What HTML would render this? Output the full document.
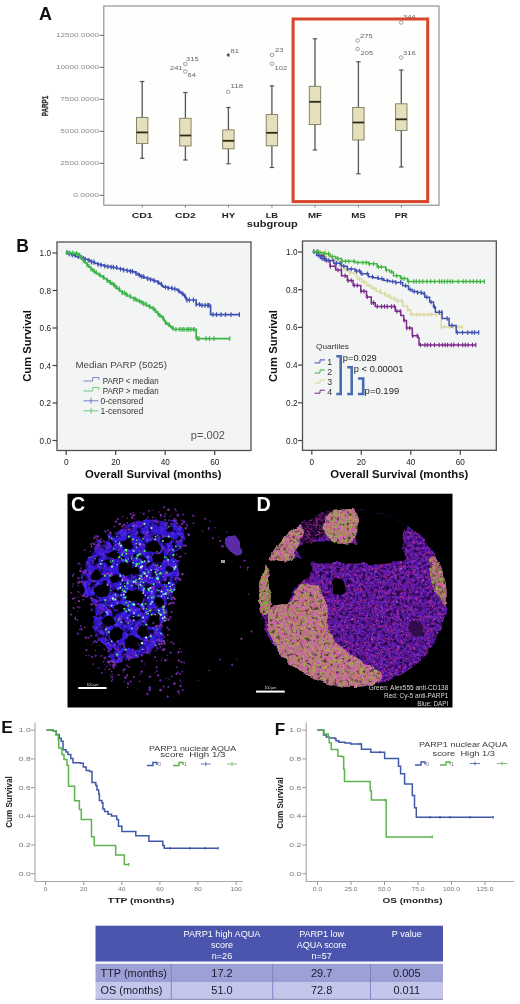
<!DOCTYPE html>
<html><head><meta charset="utf-8"><style>
html,body{margin:0;padding:0;background:#fff;width:520px;height:1004px;overflow:hidden}
svg{display:block;filter:blur(0.3px)}
</style></head><body>
<svg width="520" height="1004" viewBox="0 0 520 1004">
<defs><filter id="rough" x="-5%" y="-5%" width="110%" height="110%"><feTurbulence type="fractalNoise" baseFrequency="0.09" numOctaves="2" seed="2" result="n"/><feDisplacementMap in="SourceGraphic" in2="n" scale="7" xChannelSelector="R" yChannelSelector="G"/></filter>
<filter id="rough2" x="-5%" y="-5%" width="110%" height="110%"><feTurbulence type="fractalNoise" baseFrequency="0.12" numOctaves="2" seed="6" result="n"/><feDisplacementMap in="SourceGraphic" in2="n" scale="6" xChannelSelector="R" yChannelSelector="G"/></filter>
<filter id="nBlueL" x="0" y="0" width="100%" height="100%" color-interpolation-filters="sRGB"><feTurbulence type="fractalNoise" baseFrequency="0.3" numOctaves="2" seed="3"/><feColorMatrix type="matrix" values="0 0 0 0 0.314  0 0 0 0 0.235  0 0 0 0 0.980  4 0 0 0 -2.2"/></filter>
<filter id="nBlueP" x="0" y="0" width="100%" height="100%" color-interpolation-filters="sRGB"><feTurbulence type="fractalNoise" baseFrequency="0.25" numOctaves="2" seed="8"/><feColorMatrix type="matrix" values="0 0 0 0 0.549  0 0 0 0 0.157  0 0 0 0 0.784  4 0 0 0 -2.2"/></filter>
<filter id="nMag" x="0" y="0" width="100%" height="100%" color-interpolation-filters="sRGB"><feTurbulence type="fractalNoise" baseFrequency="0.38" numOctaves="2" seed="12"/><feColorMatrix type="matrix" values="0 0 0 0 0.686  0 0 0 0 0.157  0 0 0 0 0.549  4.5 0 0 0 -2.1"/></filter>
<filter id="nDark" x="0" y="0" width="100%" height="100%" color-interpolation-filters="sRGB"><feTurbulence type="fractalNoise" baseFrequency="0.32" numOctaves="2" seed="15"/><feColorMatrix type="matrix" values="0 0 0 0 0.098  0 0 0 0 0.016  0 0 0 0 0.216  4.5 0 0 0 -2.2"/></filter>
<filter id="nViol" x="0" y="0" width="100%" height="100%" color-interpolation-filters="sRGB"><feTurbulence type="fractalNoise" baseFrequency="0.38" numOctaves="2" seed="18"/><feColorMatrix type="matrix" values="0 0 0 0 0.471  0 0 0 0 0.176  0 0 0 0 0.882  4.5 0 0 0 -2.5"/></filter>
<filter id="nOlive" x="0" y="0" width="100%" height="100%" color-interpolation-filters="sRGB"><feTurbulence type="fractalNoise" baseFrequency="0.33" numOctaves="2" seed="21"/><feColorMatrix type="matrix" values="0 0 0 0 0.647  0 0 0 0 0.675  0 0 0 0 0.275  4.6 0 0 0 -1.9"/></filter>
<filter id="nPink" x="0" y="0" width="100%" height="100%" color-interpolation-filters="sRGB"><feTurbulence type="fractalNoise" baseFrequency="0.36" numOctaves="2" seed="27"/><feColorMatrix type="matrix" values="0 0 0 0 0.824  0 0 0 0 0.353  0 0 0 0 0.706  4.5 0 0 0 -2.0"/></filter>
<filter id="nOrange" x="0" y="0" width="100%" height="100%" color-interpolation-filters="sRGB"><feTurbulence type="fractalNoise" baseFrequency="0.4" numOctaves="2" seed="29"/><feColorMatrix type="matrix" values="0 0 0 0 0.804  0 0 0 0 0.373  0 0 0 0 0.275  4.5 0 0 0 -2.7"/></filter>
<filter id="nBlk" x="0" y="0" width="100%" height="100%" color-interpolation-filters="sRGB"><feTurbulence type="fractalNoise" baseFrequency="0.3" numOctaves="2" seed="33"/><feColorMatrix type="matrix" values="0 0 0 0 0.000  0 0 0 0 0.000  0 0 0 0 0.000  4.5 0 0 0 -2.5"/></filter>
<filter id="nBlkC" x="0" y="0" width="100%" height="100%" color-interpolation-filters="sRGB"><feTurbulence type="fractalNoise" baseFrequency="0.18" numOctaves="2" seed="35"/><feColorMatrix type="matrix" values="0 0 0 0 0.000  0 0 0 0 0.000  0 0 0 0 0.000  4.5 0 0 0 -2.2"/></filter>
<filter id="nWhite" x="0" y="0" width="100%" height="100%" color-interpolation-filters="sRGB"><feTurbulence type="fractalNoise" baseFrequency="0.45" numOctaves="2" seed="41"/><feColorMatrix type="matrix" values="0 0 0 0 0.922  0 0 0 0 0.882  0 0 0 0 0.706  5 0 0 0 -3.4"/></filter>
<filter id="nGreen" x="0" y="0" width="100%" height="100%" color-interpolation-filters="sRGB"><feTurbulence type="fractalNoise" baseFrequency="0.35" numOctaves="2" seed="44"/><feColorMatrix type="matrix" values="0 0 0 0 0.235  0 0 0 0 0.941  0 0 0 0 0.353  6 0 0 0 -3.6"/></filter></defs>
<rect width="520" height="1004" fill="#fff"/>
<text x="39" y="20" font-family="Liberation Sans, sans-serif" font-weight="bold" font-size="18" fill="#111">A</text>
<rect x="103.8" y="6" width="335.2" height="199.2" fill="#fefefc" stroke="#8a8a8a" stroke-width="1.1"/>
<line x1="99.5" y1="195.3" x2="103.8" y2="195.3" stroke="#666" stroke-width="1"/>
<text x="99" y="197.10000000000002" font-family="Liberation Sans, sans-serif" font-size="5" fill="#888" text-anchor="end" textLength="25.8" lengthAdjust="spacingAndGlyphs">0.0000</text>
<line x1="99.5" y1="163.3" x2="103.8" y2="163.3" stroke="#666" stroke-width="1"/>
<text x="99" y="165.10000000000002" font-family="Liberation Sans, sans-serif" font-size="5" fill="#888" text-anchor="end" textLength="38.7" lengthAdjust="spacingAndGlyphs">2500.0000</text>
<line x1="99.5" y1="131.3" x2="103.8" y2="131.3" stroke="#666" stroke-width="1"/>
<text x="99" y="133.10000000000002" font-family="Liberation Sans, sans-serif" font-size="5" fill="#888" text-anchor="end" textLength="38.7" lengthAdjust="spacingAndGlyphs">5000.0000</text>
<line x1="99.5" y1="99.30000000000001" x2="103.8" y2="99.30000000000001" stroke="#666" stroke-width="1"/>
<text x="99" y="101.10000000000001" font-family="Liberation Sans, sans-serif" font-size="5" fill="#888" text-anchor="end" textLength="38.7" lengthAdjust="spacingAndGlyphs">7500.0000</text>
<line x1="99.5" y1="67.30000000000001" x2="103.8" y2="67.30000000000001" stroke="#666" stroke-width="1"/>
<text x="99" y="69.10000000000001" font-family="Liberation Sans, sans-serif" font-size="5" fill="#888" text-anchor="end" textLength="43.0" lengthAdjust="spacingAndGlyphs">10000.0000</text>
<line x1="99.5" y1="35.30000000000001" x2="103.8" y2="35.30000000000001" stroke="#666" stroke-width="1"/>
<text x="99" y="37.10000000000001" font-family="Liberation Sans, sans-serif" font-size="5" fill="#888" text-anchor="end" textLength="43.0" lengthAdjust="spacingAndGlyphs">12500.0000</text>
<text transform="translate(48,106) rotate(-90)" font-family="Liberation Sans, sans-serif" font-weight="bold" font-size="9.4" fill="#333" stroke="#333" stroke-width="0.35" text-anchor="middle" textLength="20.5" lengthAdjust="spacingAndGlyphs">PARP1</text>
<line x1="142.2" y1="81.5" x2="142.2" y2="117.5" stroke="#555" stroke-width="1.3"/>
<line x1="142.2" y1="143.6" x2="142.2" y2="158.3" stroke="#555" stroke-width="1.3"/>
<line x1="140.0" y1="81.5" x2="144.39999999999998" y2="81.5" stroke="#555" stroke-width="1.2"/>
<line x1="140.0" y1="158.3" x2="144.39999999999998" y2="158.3" stroke="#555" stroke-width="1.2"/>
<rect x="136.5" y="117.5" width="11.4" height="26.099999999999994" fill="#e6dfbb" stroke="#7d7a62" stroke-width="0.9"/>
<line x1="136.5" y1="132.4" x2="147.89999999999998" y2="132.4" stroke="#2a2a1a" stroke-width="1.8"/>
<line x1="142.2" y1="205" x2="142.2" y2="207.5" stroke="#777" stroke-width="1"/>
<text x="142.2" y="218.3" font-family="Liberation Sans, sans-serif" font-weight="bold" font-size="8" fill="#222" text-anchor="middle" textLength="21" lengthAdjust="spacingAndGlyphs">CD1</text>
<line x1="185.4" y1="92.5" x2="185.4" y2="118.3" stroke="#555" stroke-width="1.3"/>
<line x1="185.4" y1="146.0" x2="185.4" y2="160.0" stroke="#555" stroke-width="1.3"/>
<line x1="183.20000000000002" y1="92.5" x2="187.6" y2="92.5" stroke="#555" stroke-width="1.2"/>
<line x1="183.20000000000002" y1="160.0" x2="187.6" y2="160.0" stroke="#555" stroke-width="1.2"/>
<rect x="179.70000000000002" y="118.3" width="11.4" height="27.700000000000003" fill="#e6dfbb" stroke="#7d7a62" stroke-width="0.9"/>
<line x1="179.70000000000002" y1="135.5" x2="191.1" y2="135.5" stroke="#2a2a1a" stroke-width="1.8"/>
<line x1="185.4" y1="205" x2="185.4" y2="207.5" stroke="#777" stroke-width="1"/>
<text x="185.4" y="218.3" font-family="Liberation Sans, sans-serif" font-weight="bold" font-size="8" fill="#222" text-anchor="middle" textLength="21" lengthAdjust="spacingAndGlyphs">CD2</text>
<line x1="228.4" y1="107.5" x2="228.4" y2="129.9" stroke="#555" stroke-width="1.3"/>
<line x1="228.4" y1="148.8" x2="228.4" y2="163.8" stroke="#555" stroke-width="1.3"/>
<line x1="226.20000000000002" y1="107.5" x2="230.6" y2="107.5" stroke="#555" stroke-width="1.2"/>
<line x1="226.20000000000002" y1="163.8" x2="230.6" y2="163.8" stroke="#555" stroke-width="1.2"/>
<rect x="222.70000000000002" y="129.9" width="11.4" height="18.900000000000006" fill="#e6dfbb" stroke="#7d7a62" stroke-width="0.9"/>
<line x1="222.70000000000002" y1="140.8" x2="234.1" y2="140.8" stroke="#2a2a1a" stroke-width="1.8"/>
<line x1="228.4" y1="205" x2="228.4" y2="207.5" stroke="#777" stroke-width="1"/>
<text x="228.4" y="218.3" font-family="Liberation Sans, sans-serif" font-weight="bold" font-size="8" fill="#222" text-anchor="middle" textLength="13.5" lengthAdjust="spacingAndGlyphs">HY</text>
<line x1="271.9" y1="85.8" x2="271.9" y2="114.5" stroke="#555" stroke-width="1.3"/>
<line x1="271.9" y1="145.8" x2="271.9" y2="167.5" stroke="#555" stroke-width="1.3"/>
<line x1="269.7" y1="85.8" x2="274.09999999999997" y2="85.8" stroke="#555" stroke-width="1.2"/>
<line x1="269.7" y1="167.5" x2="274.09999999999997" y2="167.5" stroke="#555" stroke-width="1.2"/>
<rect x="266.2" y="114.5" width="11.4" height="31.30000000000001" fill="#e6dfbb" stroke="#7d7a62" stroke-width="0.9"/>
<line x1="266.2" y1="132.8" x2="277.59999999999997" y2="132.8" stroke="#2a2a1a" stroke-width="1.8"/>
<line x1="271.9" y1="205" x2="271.9" y2="207.5" stroke="#777" stroke-width="1"/>
<text x="271.9" y="218.3" font-family="Liberation Sans, sans-serif" font-weight="bold" font-size="8" fill="#222" text-anchor="middle" textLength="12.5" lengthAdjust="spacingAndGlyphs">LB</text>
<line x1="315.0" y1="38.8" x2="315.0" y2="86.3" stroke="#555" stroke-width="1.3"/>
<line x1="315.0" y1="124.5" x2="315.0" y2="150.0" stroke="#555" stroke-width="1.3"/>
<line x1="312.8" y1="38.8" x2="317.2" y2="38.8" stroke="#555" stroke-width="1.2"/>
<line x1="312.8" y1="150.0" x2="317.2" y2="150.0" stroke="#555" stroke-width="1.2"/>
<rect x="309.3" y="86.3" width="11.4" height="38.2" fill="#e6dfbb" stroke="#7d7a62" stroke-width="0.9"/>
<line x1="309.3" y1="101.8" x2="320.7" y2="101.8" stroke="#2a2a1a" stroke-width="1.8"/>
<line x1="315.0" y1="205" x2="315.0" y2="207.5" stroke="#777" stroke-width="1"/>
<text x="315.0" y="218.3" font-family="Liberation Sans, sans-serif" font-weight="bold" font-size="8" fill="#222" text-anchor="middle" textLength="14" lengthAdjust="spacingAndGlyphs">MF</text>
<line x1="358.4" y1="61.8" x2="358.4" y2="107.5" stroke="#555" stroke-width="1.3"/>
<line x1="358.4" y1="140.0" x2="358.4" y2="173.8" stroke="#555" stroke-width="1.3"/>
<line x1="356.2" y1="61.8" x2="360.59999999999997" y2="61.8" stroke="#555" stroke-width="1.2"/>
<line x1="356.2" y1="173.8" x2="360.59999999999997" y2="173.8" stroke="#555" stroke-width="1.2"/>
<rect x="352.7" y="107.5" width="11.4" height="32.5" fill="#e6dfbb" stroke="#7d7a62" stroke-width="0.9"/>
<line x1="352.7" y1="122.5" x2="364.09999999999997" y2="122.5" stroke="#2a2a1a" stroke-width="1.8"/>
<line x1="358.4" y1="205" x2="358.4" y2="207.5" stroke="#777" stroke-width="1"/>
<text x="358.4" y="218.3" font-family="Liberation Sans, sans-serif" font-weight="bold" font-size="8" fill="#222" text-anchor="middle" textLength="14.5" lengthAdjust="spacingAndGlyphs">MS</text>
<line x1="401.3" y1="70.0" x2="401.3" y2="103.8" stroke="#555" stroke-width="1.3"/>
<line x1="401.3" y1="130.5" x2="401.3" y2="167.0" stroke="#555" stroke-width="1.3"/>
<line x1="399.1" y1="70.0" x2="403.5" y2="70.0" stroke="#555" stroke-width="1.2"/>
<line x1="399.1" y1="167.0" x2="403.5" y2="167.0" stroke="#555" stroke-width="1.2"/>
<rect x="395.6" y="103.8" width="11.4" height="26.700000000000003" fill="#e6dfbb" stroke="#7d7a62" stroke-width="0.9"/>
<line x1="395.6" y1="119.3" x2="407.0" y2="119.3" stroke="#2a2a1a" stroke-width="1.8"/>
<line x1="401.3" y1="205" x2="401.3" y2="207.5" stroke="#777" stroke-width="1"/>
<text x="401.3" y="218.3" font-family="Liberation Sans, sans-serif" font-weight="bold" font-size="8" fill="#222" text-anchor="middle" textLength="13" lengthAdjust="spacingAndGlyphs">PR</text>
<text x="272.3" y="226.5" font-family="Liberation Sans, sans-serif" font-weight="bold" font-size="8.6" fill="#222" text-anchor="middle" textLength="51" lengthAdjust="spacingAndGlyphs">subgroup</text>
<circle cx="185.3" cy="64" r="1.8" fill="none" stroke="#888" stroke-width="0.8"/>
<circle cx="185.3" cy="71.5" r="1.8" fill="none" stroke="#888" stroke-width="0.8"/>
<circle cx="228.3" cy="91.8" r="1.8" fill="none" stroke="#888" stroke-width="0.8"/>
<circle cx="272" cy="55" r="1.8" fill="none" stroke="#888" stroke-width="0.8"/>
<circle cx="272" cy="63.8" r="1.8" fill="none" stroke="#888" stroke-width="0.8"/>
<circle cx="357.6" cy="40.5" r="1.8" fill="none" stroke="#888" stroke-width="0.8"/>
<circle cx="357.6" cy="49" r="1.8" fill="none" stroke="#888" stroke-width="0.8"/>
<circle cx="401.2" cy="57.5" r="1.8" fill="none" stroke="#888" stroke-width="0.8"/>
<circle cx="401.2" cy="22.5" r="1.8" fill="none" stroke="#888" stroke-width="0.8"/>
<path d="M226.6,55H230M228.3,53.3V56.7M227.1,53.8L229.5,56.2M229.5,53.8L227.1,56.2" stroke="#333" stroke-width="0.8"/>
<text x="186" y="61" font-family="Liberation Sans, sans-serif" font-size="5" fill="#666" textLength="12.600000000000001" lengthAdjust="spacingAndGlyphs">315</text>
<text x="170" y="69.5" font-family="Liberation Sans, sans-serif" font-size="5" fill="#666" textLength="12.600000000000001" lengthAdjust="spacingAndGlyphs">241</text>
<text x="187.5" y="77" font-family="Liberation Sans, sans-serif" font-size="5" fill="#666" textLength="8.4" lengthAdjust="spacingAndGlyphs">64</text>
<text x="230.5" y="53" font-family="Liberation Sans, sans-serif" font-size="5" fill="#666" textLength="8.4" lengthAdjust="spacingAndGlyphs">81</text>
<text x="230.5" y="88" font-family="Liberation Sans, sans-serif" font-size="5" fill="#666" textLength="12.600000000000001" lengthAdjust="spacingAndGlyphs">118</text>
<text x="275" y="52" font-family="Liberation Sans, sans-serif" font-size="5" fill="#666" textLength="8.4" lengthAdjust="spacingAndGlyphs">23</text>
<text x="274.5" y="70" font-family="Liberation Sans, sans-serif" font-size="5" fill="#666" textLength="12.600000000000001" lengthAdjust="spacingAndGlyphs">102</text>
<text x="360" y="37.8" font-family="Liberation Sans, sans-serif" font-size="5" fill="#666" textLength="12.600000000000001" lengthAdjust="spacingAndGlyphs">275</text>
<text x="360.5" y="55" font-family="Liberation Sans, sans-serif" font-size="5" fill="#666" textLength="12.600000000000001" lengthAdjust="spacingAndGlyphs">205</text>
<text x="403" y="54.5" font-family="Liberation Sans, sans-serif" font-size="5" fill="#666" textLength="12.600000000000001" lengthAdjust="spacingAndGlyphs">316</text>
<text x="403" y="19" font-family="Liberation Sans, sans-serif" font-size="5" fill="#666" textLength="12.600000000000001" lengthAdjust="spacingAndGlyphs">344</text>
<rect x="293.1" y="19" width="134.6" height="182.6" fill="none" stroke="#d8442c" stroke-width="3"/>
<text x="16.3" y="252" font-family="Liberation Sans, sans-serif" font-weight="bold" font-size="17.5" fill="#111">B</text>
<rect x="57" y="242" width="194" height="208.5" fill="#f3f5f5" stroke="#505050" stroke-width="1.3"/>
<line x1="52.5" y1="253" x2="57" y2="253" stroke="#444" stroke-width="1.2"/>
<text x="51" y="256" font-family="Liberation Sans, sans-serif" font-size="8.2" fill="#222" text-anchor="end">1.0</text>
<line x1="52.5" y1="290.5" x2="57" y2="290.5" stroke="#444" stroke-width="1.2"/>
<text x="51" y="293.5" font-family="Liberation Sans, sans-serif" font-size="8.2" fill="#222" text-anchor="end">0.8</text>
<line x1="52.5" y1="328" x2="57" y2="328" stroke="#444" stroke-width="1.2"/>
<text x="51" y="331" font-family="Liberation Sans, sans-serif" font-size="8.2" fill="#222" text-anchor="end">0.6</text>
<line x1="52.5" y1="365.5" x2="57" y2="365.5" stroke="#444" stroke-width="1.2"/>
<text x="51" y="368.5" font-family="Liberation Sans, sans-serif" font-size="8.2" fill="#222" text-anchor="end">0.4</text>
<line x1="52.5" y1="403" x2="57" y2="403" stroke="#444" stroke-width="1.2"/>
<text x="51" y="406" font-family="Liberation Sans, sans-serif" font-size="8.2" fill="#222" text-anchor="end">0.2</text>
<line x1="52.5" y1="440.5" x2="57" y2="440.5" stroke="#444" stroke-width="1.2"/>
<text x="51" y="443.5" font-family="Liberation Sans, sans-serif" font-size="8.2" fill="#222" text-anchor="end">0.0</text>
<line x1="66.2" y1="450.5" x2="66.2" y2="455.0" stroke="#444" stroke-width="1.2"/>
<text x="66.2" y="465" font-family="Liberation Sans, sans-serif" font-size="8.2" fill="#222" text-anchor="middle">0</text>
<line x1="115.7" y1="450.5" x2="115.7" y2="455.0" stroke="#444" stroke-width="1.2"/>
<text x="115.7" y="465" font-family="Liberation Sans, sans-serif" font-size="8.2" fill="#222" text-anchor="middle">20</text>
<line x1="165.2" y1="450.5" x2="165.2" y2="455.0" stroke="#444" stroke-width="1.2"/>
<text x="165.2" y="465" font-family="Liberation Sans, sans-serif" font-size="8.2" fill="#222" text-anchor="middle">40</text>
<line x1="214.7" y1="450.5" x2="214.7" y2="455.0" stroke="#444" stroke-width="1.2"/>
<text x="214.7" y="465" font-family="Liberation Sans, sans-serif" font-size="8.2" fill="#222" text-anchor="middle">60</text>
<text transform="translate(31,346) rotate(-90)" font-family="Liberation Sans, sans-serif" font-weight="bold" font-size="11" fill="#111" text-anchor="middle" textLength="71.5" lengthAdjust="spacingAndGlyphs">Cum Survival</text>
<text x="153.3" y="478.3" font-family="Liberation Sans, sans-serif" font-weight="bold" font-size="11" fill="#111" text-anchor="middle" textLength="136.5" lengthAdjust="spacingAndGlyphs">Overall Survival (months)</text>
<path d="M65.8,252.7H69.0V254.0H72.2V255.2H75.4V256.5H78.6V257.5H81.8V258.4H85.0V259.4H88.2V260.7H91.4V262.0H94.6V263.3H97.8V264.3H101.0V265.2H104.2V266.2H107.4V266.7H110.6V267.2H113.8V267.7H117.0V268.5H120.3V269.2H123.5V270.0H126.7V270.6H129.8V271.3H133.0V271.9H135.6V273.5H138.2V275.1H140.8V276.7H144.0V277.7H147.2V278.6H150.4V279.6H152.8V280.5H155.3V281.4H157.7V282.3H159.0V283.3H160.2V284.2H161.5V285.2H162.2V285.8H162.8V286.5H163.5V287.1H168.0V288.1H172.4V289.0H176.9V290.0H178.2V291.0H179.5V291.9H180.8V292.9H182.1V293.9H183.3V294.8H184.6V295.8H185.2V297.2H185.9V298.6H186.5V300.0H196.2V304.4H200.0V305.4H210.6V314.6H239.4V314.6" stroke="#4050b4" stroke-width="1.7" fill="none"/><path d="M66.8,250.3V255.1M69.2,251.6V256.4M72.3,252.8V257.6M75.0,252.8V257.6M78.2,254.1V258.9M81.5,255.1V259.9M83.5,256.0V260.8M85.3,257.0V261.8M89.1,258.3V263.1M91.5,259.6V264.4M93.9,259.6V264.4M98.1,261.9V266.7M101.0,262.8V267.6M104.8,263.8V268.6M107.8,264.3V269.1M111.1,264.8V269.6M113.3,264.8V269.6M116.6,265.3V270.1M120.5,266.8V271.6M123.5,267.6V272.4M127.1,268.2V273.0M130.5,268.9V273.7M132.5,268.9V273.7M136.1,271.1V275.9M139.3,272.7V277.5M141.8,274.3V279.1M143.7,274.3V279.1M147.6,276.2V281.0M150.5,277.2V282.0M154.0,278.1V282.9M158.0,279.9V284.7M161.5,281.8V286.6M165.5,284.7V289.5M168.2,285.7V290.5M171.9,285.7V290.5M174.8,286.6V291.4M178.9,288.6V293.4M182.8,291.5V296.3M184.8,293.4V298.2M186.9,297.6V302.4M189.3,297.6V302.4M193.4,297.6V302.4M196.2,302.0V306.8M199.5,302.0V306.8M202.0,303.0V307.8M205.1,303.0V307.8M207.8,303.0V307.8M209.0,303.0V307.8M213.0,312.2V317.0M216.5,312.2V317.0M221.0,312.2V317.0M225.5,312.2V317.0M231.0,312.2V317.0M239.4,312.2V317.0" stroke="#4050b4" stroke-width="1.2" fill="none"/>
<path d="M65.8,252.7H69.6V253.0H73.5V253.4H77.3V253.7H78.6V255.3H79.9V256.9H81.2V258.5H83.1V260.7H85.1V263.0H87.0V265.2H88.9V267.1H90.8V269.1H92.7V271.0H94.6V272.3H96.6V273.5H98.5V274.8H100.4V276.1H102.3V277.4H104.2V278.7H106.8V280.6H109.3V282.5H111.9V284.4H114.5V286.7H117.0V288.9H119.6V291.2H122.2V292.8H124.7V294.4H127.3V296.0H130.5V297.6H133.7V299.2H136.9V300.8H140.1V302.4H143.3V304.0H146.5V305.6H148.3V306.5H150.2V307.4H152.0V308.3H153.9V310.2H155.8V312.1H157.7V314.0H159.3V315.3H160.9V316.6H162.5V317.9H163.5V319.5H164.4V321.1H165.4V322.7H166.7V323.7H167.9V324.6H169.2V325.6H170.5V326.9H171.8V328.1H173.1V329.4H196.2V338.7H229.8V338.7" stroke="#3cb44a" stroke-width="1.7" fill="none"/><path d="M66.8,250.3V255.1M69.8,250.6V255.4M72.8,250.6V255.4M76.5,251.0V255.8M79.7,252.9V257.7M83.5,258.3V263.1M87.1,262.8V267.6M91.0,266.7V271.5M94.1,268.6V273.4M96.2,269.9V274.7M99.8,272.4V277.2M103.6,275.0V279.8M107.3,278.2V283.0M110.3,280.1V284.9M113.6,282.0V286.8M115.7,284.3V289.1M119.3,286.5V291.3M122.2,290.4V295.2M124.5,290.4V295.2M126.4,292.0V296.8M130.0,293.6V298.4M133.9,296.8V301.6M135.7,296.8V301.6M139.2,298.4V303.2M141.8,300.0V304.8M143.8,301.6V306.4M146.2,301.6V306.4M149.6,304.1V308.9M153.2,305.9V310.7M155.0,307.8V312.6M158.0,311.6V316.4M159.8,312.9V317.7M163.1,315.5V320.3M165.5,320.3V325.1M169.2,322.2V327.0M173.1,325.7V330.5M175.9,327.0V331.8M179.8,327.0V331.8M182.2,327.0V331.8M184.0,327.0V331.8M187.0,327.0V331.8M188.8,327.0V331.8M190.9,327.0V331.8M193.5,327.0V331.8M194.0,327.0V331.8M197.5,336.3V341.1M199.0,336.3V341.1M206.0,336.3V341.1M209.5,336.3V341.1M214.0,336.3V341.1M229.8,336.3V341.1" stroke="#3cb44a" stroke-width="1.2" fill="none"/>
<text x="75.4" y="367.6" font-family="Liberation Sans, sans-serif" font-size="8.8" fill="#444" textLength="91.7" lengthAdjust="spacingAndGlyphs">Median PARP (5025)</text>
<path d="M83.5,381H92.7V377.5H98.8V380" stroke="#4050b4" stroke-width="0.9" fill="none" opacity="0.75"/>
<text x="102.7" y="383.6" font-family="Liberation Sans, sans-serif" font-size="8.2" fill="#333" textLength="56" lengthAdjust="spacingAndGlyphs">PARP &lt; median</text>
<path d="M83.5,391H92.7V387.5H98.8V390" stroke="#3cb44a" stroke-width="0.9" fill="none" opacity="0.75"/>
<text x="102.7" y="393.6" font-family="Liberation Sans, sans-serif" font-size="8.2" fill="#333" textLength="56" lengthAdjust="spacingAndGlyphs">PARP &gt; median</text>
<path d="M83.5,400.8H98.5M91,397.8V403.8" stroke="#4050b4" stroke-width="0.9" fill="none" opacity="0.8"/>
<text x="100.4" y="403.8" font-family="Liberation Sans, sans-serif" font-size="8.2" fill="#333" textLength="43" lengthAdjust="spacingAndGlyphs">0-censored</text>
<path d="M83.5,410.8H98.5M91,407.8V413.8" stroke="#3cb44a" stroke-width="0.9" fill="none" opacity="0.8"/>
<text x="100.4" y="413.8" font-family="Liberation Sans, sans-serif" font-size="8.2" fill="#333" textLength="43" lengthAdjust="spacingAndGlyphs">1-censored</text>
<text x="190.8" y="439.3" font-family="Liberation Sans, sans-serif" font-size="10.5" fill="#555" textLength="34.2" lengthAdjust="spacingAndGlyphs">p=.002</text>
<rect x="302.5" y="241" width="193.8" height="209.3" fill="#f3f5f5" stroke="#505050" stroke-width="1.3"/>
<line x1="298.0" y1="252" x2="302.5" y2="252" stroke="#444" stroke-width="1.2"/>
<text x="297.5" y="255" font-family="Liberation Sans, sans-serif" font-size="8.2" fill="#222" text-anchor="end">1.0</text>
<line x1="298.0" y1="289.7" x2="302.5" y2="289.7" stroke="#444" stroke-width="1.2"/>
<text x="297.5" y="292.7" font-family="Liberation Sans, sans-serif" font-size="8.2" fill="#222" text-anchor="end">0.8</text>
<line x1="298.0" y1="327.4" x2="302.5" y2="327.4" stroke="#444" stroke-width="1.2"/>
<text x="297.5" y="330.4" font-family="Liberation Sans, sans-serif" font-size="8.2" fill="#222" text-anchor="end">0.6</text>
<line x1="298.0" y1="365.1" x2="302.5" y2="365.1" stroke="#444" stroke-width="1.2"/>
<text x="297.5" y="368.1" font-family="Liberation Sans, sans-serif" font-size="8.2" fill="#222" text-anchor="end">0.4</text>
<line x1="298.0" y1="402.8" x2="302.5" y2="402.8" stroke="#444" stroke-width="1.2"/>
<text x="297.5" y="405.8" font-family="Liberation Sans, sans-serif" font-size="8.2" fill="#222" text-anchor="end">0.2</text>
<line x1="298.0" y1="440.5" x2="302.5" y2="440.5" stroke="#444" stroke-width="1.2"/>
<text x="297.5" y="443.5" font-family="Liberation Sans, sans-serif" font-size="8.2" fill="#222" text-anchor="end">0.0</text>
<line x1="311.8" y1="450.3" x2="311.8" y2="454.8" stroke="#444" stroke-width="1.2"/>
<text x="311.8" y="465" font-family="Liberation Sans, sans-serif" font-size="8.2" fill="#222" text-anchor="middle">0</text>
<line x1="361.3" y1="450.3" x2="361.3" y2="454.8" stroke="#444" stroke-width="1.2"/>
<text x="361.3" y="465" font-family="Liberation Sans, sans-serif" font-size="8.2" fill="#222" text-anchor="middle">20</text>
<line x1="410.8" y1="450.3" x2="410.8" y2="454.8" stroke="#444" stroke-width="1.2"/>
<text x="410.8" y="465" font-family="Liberation Sans, sans-serif" font-size="8.2" fill="#222" text-anchor="middle">40</text>
<line x1="460.3" y1="450.3" x2="460.3" y2="454.8" stroke="#444" stroke-width="1.2"/>
<text x="460.3" y="465" font-family="Liberation Sans, sans-serif" font-size="8.2" fill="#222" text-anchor="middle">60</text>
<text x="277.2" y="346" transform="rotate(-90 277.2 346)" font-family="Liberation Sans, sans-serif" font-weight="bold" font-size="11" fill="#111" text-anchor="middle" textLength="72" lengthAdjust="spacingAndGlyphs">Cum Survival</text>
<text x="399.3" y="478" font-family="Liberation Sans, sans-serif" font-weight="bold" font-size="11" fill="#111" text-anchor="middle" textLength="138" lengthAdjust="spacingAndGlyphs">Overall Survival (months)</text>
<path d="M312.7,251.7H320.4V251.7H326.2V256.5H331.9V260.4H339.6V266.2H344.4V269.5H349.2V272.9H356.9V278.7H361.7V282.0H366.5V285.4H371.4V288.3H376.2V291.2H381.0V293.6H385.8V296.0H390.6V298.4H395.4V300.8H402.7V306.0H407.5V309.8H410.4V314.6H436.3V314.6H441.2V327.1H462.3V327.1" stroke="#dcd8a2" stroke-width="1.5" fill="none"/><path d="M313.7,249.5V253.9M317.0,249.5V253.9M319.8,249.5V253.9M325.6,249.5V253.9M329.5,254.3V258.7M335.6,258.2V262.6M341.5,264.0V268.4M345.6,267.3V271.7M350.0,270.7V275.1M354.5,270.7V275.1M359.6,276.5V280.9M364.4,279.8V284.2M369.1,283.2V287.6M374.0,286.1V290.5M380.1,289.0V293.4M384.7,291.4V295.8M388.9,293.8V298.2M394.2,296.2V300.6M397.8,298.6V303.0M401.5,298.6V303.0M407.8,307.6V312.0M412.3,312.4V316.8M417.0,312.4V316.8M419.8,312.4V316.8M423.9,312.4V316.8M428.7,312.4V316.8M431.5,312.4V316.8M436.4,312.4V316.8M441.4,324.9V329.3M444.3,324.9V329.3M449.3,324.9V329.3M453.7,324.9V329.3M458.8,324.9V329.3M462.3,324.9V329.3" stroke="#dcd8a2" stroke-width="1.2" fill="none"/>
<path d="M312.7,251.7H318.5V255.6H324.2V260.4H330.0V266.2H335.8V270.0H341.5V275.8H347.3V280.6H353.1V285.4H360.8V291.2H366.5V296.9H371.3V302.7H375.2V306.5H391.5V306.5H395.4V311.3H400.8V315.6H403.7V320.4H406.5V328.1H412.3V335.8H418.1V337.7H419.0V345.0H475.8V345.0" stroke="#7c2a8c" stroke-width="1.5" fill="none"/><path d="M313.7,249.5V253.9M317.8,249.5V253.9M321.9,253.4V257.8M324.1,253.4V257.8M326.4,258.2V262.6M330.4,264.0V268.4M335.2,264.0V268.4M338.0,267.8V272.2M341.3,267.8V272.2M345.1,273.6V278.0M348.1,278.4V282.8M351.2,278.4V282.8M354.2,283.2V287.6M357.3,283.2V287.6M361.1,289.0V293.4M364.0,289.0V293.4M367.2,294.7V299.1M371.5,300.5V304.9M373.6,300.5V304.9M377.3,304.3V308.7M381.5,304.3V308.7M384.5,304.3V308.7M387.2,304.3V308.7M391.5,304.3V308.7M394.3,304.3V308.7M396.9,309.1V313.5M400.2,309.1V313.5M404.3,318.2V322.6M406.7,325.9V330.3M409.7,325.9V330.3M412.7,333.6V338.0M417.2,333.6V338.0M420.5,342.8V347.2M425.0,342.8V347.2M427.5,342.8V347.2M430.6,342.8V347.2M434.5,342.8V347.2M439.1,342.8V347.2M442.5,342.8V347.2M445.2,342.8V347.2M447.6,342.8V347.2M451.2,342.8V347.2M453.8,342.8V347.2M458.2,342.8V347.2M462.6,342.8V347.2M465.3,342.8V347.2M468.1,342.8V347.2M472.5,342.8V347.2M475.8,342.8V347.2" stroke="#7c2a8c" stroke-width="1.2" fill="none"/>
<path d="M312.7,251.7H316.5V255.6H320.4V258.5H326.2V260.4H333.8V263.3H341.5V266.2H347.3V269.0H355.0V271.0H360.8V273.8H368.5V276.7H373.3V277.7H378.1V278.7H383.8V280.6H389.6V281.6H395.4V282.5H402.7V285.8H408.5V289.6H412.3V291.5H417.1V292.5H421.9V293.5H424.8V297.3H429.6V302.1H433.5V306.9H435.4V312.3H442.1V318.5H449.1V325.5H456.2V332.5H478.7V332.5" stroke="#4050b0" stroke-width="1.5" fill="none"/><path d="M313.7,249.5V253.9M318.7,253.4V257.8M322.2,256.3V260.7M325.0,256.3V260.7M328.3,258.2V262.6M333.3,258.2V262.6M336.5,261.1V265.5M340.1,261.1V265.5M343.8,264.0V268.4M347.5,266.8V271.2M351.2,266.8V271.2M356.6,268.8V273.2M359.5,268.8V273.2M361.9,271.6V276.0M367.3,271.6V276.0M372.5,274.5V278.9M378.1,275.5V279.9M381.9,276.5V280.9M387.3,278.4V282.8M392.7,279.4V283.8M395.8,280.3V284.7M400.6,280.3V284.7M405.7,283.6V288.0M410.2,287.4V291.8M414.2,289.3V293.7M417.6,290.3V294.7M421.1,290.3V294.7M424.2,291.3V295.7M426.8,295.1V299.5M431.1,299.9V304.3M434.4,304.7V309.1M439.4,310.1V314.5M441.9,310.1V314.5M447.2,316.3V320.7M451.9,323.3V327.7M457.2,330.3V334.7M462.5,330.3V334.7M467.8,330.3V334.7M472.0,330.3V334.7M474.5,330.3V334.7M478.7,330.3V334.7" stroke="#4050b0" stroke-width="1.2" fill="none"/>
<path d="M312.7,251.7H318.4V252.7H324.2V253.7H330.0V256.5H335.8V258.5H341.5V261.3H355.0V262.6H368.5V263.8H377.1V266.9H385.8V270.0H389.6V271.9H393.5V275.8H400.5V278.6H407.5V281.5H484.4V281.5" stroke="#44b444" stroke-width="1.5" fill="none"/><path d="M313.7,249.5V253.9M316.6,249.5V253.9M320.0,250.5V254.9M324.5,251.5V255.9M328.6,251.5V255.9M332.3,254.3V258.7M337.7,256.3V260.7M342.1,259.1V263.5M345.6,259.1V263.5M348.8,259.1V263.5M354.0,259.1V263.5M357.9,260.4V264.8M362.8,260.4V264.8M366.3,260.4V264.8M369.3,261.6V266.0M373.5,261.6V266.0M378.5,264.7V269.1M381.4,264.7V269.1M386.4,267.8V272.2M391.7,269.7V274.1M396.7,273.6V278.0M401.7,276.4V280.8M404.1,276.4V280.8M408.5,279.3V283.7M413.7,279.3V283.7M416.3,279.3V283.7M419.5,279.3V283.7M422.8,279.3V283.7M426.9,279.3V283.7M430.6,279.3V283.7M434.6,279.3V283.7M439.4,279.3V283.7M441.8,279.3V283.7M444.4,279.3V283.7M447.2,279.3V283.7M450.0,279.3V283.7M452.6,279.3V283.7M458.2,279.3V283.7M463.3,279.3V283.7M466.0,279.3V283.7M470.0,279.3V283.7M473.4,279.3V283.7M476.8,279.3V283.7M480.3,279.3V283.7M484.4,279.3V283.7" stroke="#44b444" stroke-width="1.2" fill="none"/>
<text x="316" y="348.8" font-family="Liberation Sans, sans-serif" font-size="7.3" fill="#333" textLength="33" lengthAdjust="spacingAndGlyphs">Quartiles</text>
<path d="M314.5,362.9H320V359.9H325" stroke="#4050b0" stroke-width="1" fill="none"/>
<text x="327.2" y="364.59999999999997" font-family="Liberation Sans, sans-serif" font-size="8.8" fill="#333">1</text>
<path d="M314.5,373.0H320V370.0H325" stroke="#44b444" stroke-width="1" fill="none"/>
<text x="327.2" y="374.7" font-family="Liberation Sans, sans-serif" font-size="8.8" fill="#333">2</text>
<path d="M314.5,383.09999999999997H320V380.09999999999997H325" stroke="#dcd8a2" stroke-width="1" fill="none"/>
<text x="327.2" y="384.79999999999995" font-family="Liberation Sans, sans-serif" font-size="8.8" fill="#333">3</text>
<path d="M314.5,393.2H320V390.2H325" stroke="#7c2a8c" stroke-width="1" fill="none"/>
<text x="327.2" y="394.9" font-family="Liberation Sans, sans-serif" font-size="8.8" fill="#333">4</text>
<path d="M336.3,356.2H340.7V394H336.3" stroke="#4a6db0" stroke-width="2.6" fill="none"/>
<path d="M347.2,367.3H351.7V394H347.2" stroke="#4a6db0" stroke-width="2.6" fill="none"/>
<path d="M358,378.5H363.2V394H358" stroke="#4a6db0" stroke-width="2.6" fill="none"/>
<text x="342.8" y="361" font-family="Liberation Sans, sans-serif" font-size="9.2" fill="#222" textLength="34" lengthAdjust="spacingAndGlyphs">p=0.029</text>
<text x="353.8" y="372" font-family="Liberation Sans, sans-serif" font-size="9.2" fill="#222" textLength="49.6" lengthAdjust="spacingAndGlyphs">p &lt; 0.00001</text>
<text x="364.6" y="393.6" font-family="Liberation Sans, sans-serif" font-size="9.2" fill="#222" textLength="34.6" lengthAdjust="spacingAndGlyphs">p=0.199</text>
<rect x="67.5" y="493.7" width="385" height="213.8" fill="#000"/>
<clipPath id="cblob"><path d="M97.0,540.0C99.7,538.0 108.0,535.3 113.0,533.0C118.0,530.7 123.2,528.0 127.0,526.0C130.8,524.0 131.3,522.1 136.0,521.0C140.7,519.9 150.0,519.3 155.0,519.5C160.0,519.7 162.7,521.8 166.0,522.0C169.3,522.2 172.2,520.0 175.0,521.0C177.8,522.0 181.5,525.2 183.0,528.0C184.5,530.8 184.5,533.2 184.0,538.0C183.5,542.8 181.1,550.3 180.0,557.0C178.9,563.7 178.7,571.2 177.5,578.0C176.3,584.8 174.5,593.7 173.0,598.0C171.5,602.3 169.7,601.2 168.5,604.0C167.3,606.8 166.8,611.5 166.0,615.0C165.2,618.5 164.7,620.8 164.0,625.0C163.3,629.2 163.0,636.5 162.0,640.0C161.0,643.5 160.3,644.0 158.0,646.0C155.7,648.0 151.7,650.2 148.0,652.0C144.3,653.8 139.8,655.8 136.0,657.0C132.2,658.2 128.7,658.0 125.0,659.0C121.3,660.0 117.2,664.8 114.0,663.0C110.8,661.2 108.8,652.5 106.0,648.0C103.2,643.5 99.1,639.8 97.0,636.0C94.9,632.2 93.9,629.5 93.5,625.0C93.1,620.5 95.3,613.2 94.7,609.0C94.1,604.8 91.5,602.2 90.0,600.0C88.5,597.8 86.8,598.5 85.5,595.5C84.2,592.5 82.4,586.2 82.0,582.0C81.6,577.8 82.1,573.8 83.3,570.0C84.5,566.2 86.7,563.2 89.0,559.0C91.3,554.8 95.7,548.2 97.0,545.0C98.3,541.8 94.3,542.0 97.0,540.0Z"/></clipPath>
<g filter="url(#rough)">
<path d="M97.0,540.0C99.7,538.0 108.0,535.3 113.0,533.0C118.0,530.7 123.2,528.0 127.0,526.0C130.8,524.0 131.3,522.1 136.0,521.0C140.7,519.9 150.0,519.3 155.0,519.5C160.0,519.7 162.7,521.8 166.0,522.0C169.3,522.2 172.2,520.0 175.0,521.0C177.8,522.0 181.5,525.2 183.0,528.0C184.5,530.8 184.5,533.2 184.0,538.0C183.5,542.8 181.1,550.3 180.0,557.0C178.9,563.7 178.7,571.2 177.5,578.0C176.3,584.8 174.5,593.7 173.0,598.0C171.5,602.3 169.7,601.2 168.5,604.0C167.3,606.8 166.8,611.5 166.0,615.0C165.2,618.5 164.7,620.8 164.0,625.0C163.3,629.2 163.0,636.5 162.0,640.0C161.0,643.5 160.3,644.0 158.0,646.0C155.7,648.0 151.7,650.2 148.0,652.0C144.3,653.8 139.8,655.8 136.0,657.0C132.2,658.2 128.7,658.0 125.0,659.0C121.3,660.0 117.2,664.8 114.0,663.0C110.8,661.2 108.8,652.5 106.0,648.0C103.2,643.5 99.1,639.8 97.0,636.0C94.9,632.2 93.9,629.5 93.5,625.0C93.1,620.5 95.3,613.2 94.7,609.0C94.1,604.8 91.5,602.2 90.0,600.0C88.5,597.8 86.8,598.5 85.5,595.5C84.2,592.5 82.4,586.2 82.0,582.0C81.6,577.8 82.1,573.8 83.3,570.0C84.5,566.2 86.7,563.2 89.0,559.0C91.3,554.8 95.7,548.2 97.0,545.0C98.3,541.8 94.3,542.0 97.0,540.0Z" fill="#3416d8"/>
<g clip-path="url(#cblob)">
<rect x="80" y="515" width="108" height="152" filter="url(#nBlueL)"/>
<rect x="80" y="515" width="108" height="152" filter="url(#nBlueP)"/>
<rect x="80" y="515" width="108" height="152" filter="url(#nBlkC)" opacity="0.9"/>
</g>
<ellipse cx="113.2" cy="555.2" rx="6" ry="5" fill="#000"/><ellipse cx="124.7" cy="568.9" rx="7" ry="6" fill="#000"/><ellipse cx="127" cy="543.8" rx="5" ry="4.5" fill="#000"/><ellipse cx="152.4" cy="546" rx="7" ry="6" fill="#000"/><ellipse cx="158" cy="557.3" rx="5.5" ry="5" fill="#000"/><ellipse cx="96" cy="574.8" rx="6" ry="6.5" fill="#000"/><ellipse cx="102.6" cy="591" rx="7" ry="6" fill="#000"/><ellipse cx="114.2" cy="579.4" rx="5" ry="4.5" fill="#000"/><ellipse cx="135" cy="571" rx="5" ry="4.5" fill="#000"/><ellipse cx="131.6" cy="595.5" rx="6" ry="6" fill="#000"/><ellipse cx="178.8" cy="555" rx="4.5" ry="5" fill="#000"/><ellipse cx="104" cy="537.8" rx="5" ry="4" fill="#000"/><ellipse cx="108.5" cy="621.3" rx="7" ry="6.5" fill="#000"/><ellipse cx="116.5" cy="634.8" rx="7" ry="6.5" fill="#000"/><ellipse cx="132.6" cy="643" rx="7.5" ry="6.5" fill="#000"/><ellipse cx="142.8" cy="631.5" rx="6" ry="5.5" fill="#000"/><ellipse cx="137.2" cy="597" rx="6.5" ry="6" fill="#000"/><ellipse cx="154.7" cy="621" rx="6" ry="5.5" fill="#000"/><ellipse cx="159.3" cy="601.5" rx="5" ry="5.5" fill="#000"/><ellipse cx="120" cy="608" rx="4" ry="4" fill="#000"/><ellipse cx="167" cy="540" rx="3.5" ry="3" fill="#000"/>
</g>
<circle cx="168.6" cy="619.8" r="1.2" fill="#8038a8"/><circle cx="159.4" cy="644.2" r="1.2" fill="#8038a8"/><circle cx="112.3" cy="661.5" r="1.0" fill="#7a2cb0"/><circle cx="119.9" cy="524.2" r="1.1" fill="#8038a8"/><circle cx="91.5" cy="546.7" r="1.1" fill="#6a22b0"/><circle cx="84.3" cy="595.3" r="0.8" fill="#7a2cb0"/><circle cx="128.8" cy="659.7" r="1.0" fill="#7a2cb0"/><circle cx="158.3" cy="648.9" r="0.6" fill="#6a22b0"/><circle cx="162.0" cy="622.0" r="1.0" fill="#6a22b0"/><circle cx="96.9" cy="641.9" r="1.0" fill="#6a22b0"/><circle cx="125.5" cy="525.4" r="0.7" fill="#5a1cb0"/><circle cx="169.1" cy="604.3" r="1.1" fill="#7a2cb0"/><circle cx="176.0" cy="520.5" r="0.9" fill="#8038a8"/><circle cx="170.4" cy="617.2" r="1.2" fill="#5a1cb0"/><circle cx="180.2" cy="579.6" r="1.4" fill="#6a22b0"/><circle cx="155.0" cy="521.1" r="0.6" fill="#8038a8"/><circle cx="165.1" cy="519.9" r="1.0" fill="#7a2cb0"/><circle cx="164.9" cy="613.6" r="0.9" fill="#7a2cb0"/><circle cx="95.8" cy="549.2" r="1.2" fill="#5a1cb0"/><circle cx="85.5" cy="570.3" r="1.4" fill="#6a22b0"/><circle cx="115.4" cy="532.8" r="0.8" fill="#5a1cb0"/><circle cx="85.1" cy="596.8" r="0.7" fill="#7a2cb0"/><circle cx="94.3" cy="538.0" r="1.0" fill="#8038a8"/><circle cx="79.2" cy="592.3" r="0.7" fill="#7a2cb0"/><circle cx="185.4" cy="553.5" r="0.8" fill="#7a2cb0"/><circle cx="165.4" cy="513.7" r="0.8" fill="#8038a8"/><circle cx="81.9" cy="570.2" r="0.6" fill="#6a22b0"/><circle cx="110.3" cy="532.8" r="1.2" fill="#8038a8"/><circle cx="177.3" cy="541.6" r="1.0" fill="#7a2cb0"/><circle cx="88.8" cy="557.7" r="0.8" fill="#6a22b0"/><circle cx="185.8" cy="545.6" r="1.2" fill="#6a22b0"/><circle cx="181.8" cy="539.4" r="0.6" fill="#5a1cb0"/><circle cx="163.8" cy="596.2" r="0.7" fill="#7a2cb0"/><circle cx="80.3" cy="571.0" r="1.2" fill="#7a2cb0"/><circle cx="136.6" cy="657.1" r="1.3" fill="#5a1cb0"/><circle cx="101.6" cy="546.0" r="0.7" fill="#6a22b0"/><circle cx="92.8" cy="626.8" r="0.7" fill="#8038a8"/><circle cx="147.3" cy="652.8" r="1.3" fill="#7a2cb0"/><circle cx="93.1" cy="599.3" r="0.7" fill="#8038a8"/><circle cx="89.4" cy="573.2" r="1.4" fill="#6a22b0"/><circle cx="81.4" cy="582.0" r="1.1" fill="#8038a8"/><circle cx="137.4" cy="657.1" r="0.7" fill="#6a22b0"/><circle cx="188.1" cy="534.1" r="0.9" fill="#8038a8"/><circle cx="159.8" cy="626.0" r="1.0" fill="#6a22b0"/><circle cx="176.8" cy="554.6" r="0.8" fill="#6a22b0"/><circle cx="163.0" cy="634.9" r="1.0" fill="#6a22b0"/><circle cx="171.3" cy="603.0" r="0.8" fill="#7a2cb0"/><circle cx="99.0" cy="606.1" r="1.0" fill="#7a2cb0"/><circle cx="175.3" cy="579.5" r="1.1" fill="#7a2cb0"/><circle cx="83.8" cy="572.4" r="1.3" fill="#7a2cb0"/><circle cx="157.2" cy="521.9" r="1.3" fill="#6a22b0"/><circle cx="106.0" cy="639.8" r="1.3" fill="#6a22b0"/><circle cx="156.1" cy="626.4" r="1.3" fill="#8038a8"/><circle cx="108.8" cy="662.3" r="1.2" fill="#8038a8"/><circle cx="178.3" cy="578.4" r="1.3" fill="#6a22b0"/><circle cx="104.8" cy="643.6" r="0.8" fill="#6a22b0"/><circle cx="116.5" cy="665.9" r="0.6" fill="#5a1cb0"/><circle cx="184.1" cy="521.9" r="1.4" fill="#6a22b0"/><circle cx="167.4" cy="627.7" r="1.1" fill="#5a1cb0"/><circle cx="99.1" cy="546.1" r="1.3" fill="#5a1cb0"/><circle cx="164.7" cy="516.3" r="1.0" fill="#6a22b0"/><circle cx="166.9" cy="528.0" r="1.0" fill="#7a2cb0"/><circle cx="171.7" cy="599.6" r="0.8" fill="#8038a8"/><circle cx="91.7" cy="556.8" r="1.0" fill="#7a2cb0"/><circle cx="114.3" cy="662.7" r="1.0" fill="#5a1cb0"/><circle cx="159.4" cy="633.8" r="0.7" fill="#6a22b0"/><circle cx="175.2" cy="524.5" r="0.7" fill="#5a1cb0"/><circle cx="156.0" cy="650.8" r="0.8" fill="#6a22b0"/><circle cx="172.0" cy="598.0" r="0.9" fill="#8038a8"/><circle cx="93.5" cy="616.8" r="0.8" fill="#6a22b0"/><circle cx="166.7" cy="612.9" r="0.9" fill="#7a2cb0"/><circle cx="164.5" cy="643.4" r="1.2" fill="#8038a8"/><circle cx="100.4" cy="541.8" r="1.2" fill="#7a2cb0"/><circle cx="161.1" cy="624.5" r="1.2" fill="#7a2cb0"/><circle cx="150.4" cy="645.3" r="0.8" fill="#8038a8"/><circle cx="101.2" cy="538.8" r="0.8" fill="#7a2cb0"/><circle cx="94.3" cy="544.2" r="1.0" fill="#8038a8"/><circle cx="148.3" cy="652.2" r="0.9" fill="#6a22b0"/><circle cx="161.8" cy="643.8" r="1.4" fill="#6a22b0"/><circle cx="163.8" cy="641.2" r="1.3" fill="#8038a8"/><circle cx="171.5" cy="612.0" r="0.9" fill="#7a2cb0"/><circle cx="158.8" cy="640.1" r="1.3" fill="#8038a8"/><circle cx="157.1" cy="648.1" r="1.1" fill="#5a1cb0"/><circle cx="152.1" cy="510.3" r="0.6" fill="#7a2cb0"/><circle cx="185.9" cy="528.2" r="1.2" fill="#7a2cb0"/><circle cx="120.9" cy="659.0" r="1.1" fill="#5a1cb0"/><circle cx="98.4" cy="640.1" r="0.9" fill="#8038a8"/><circle cx="110.3" cy="665.2" r="0.7" fill="#7a2cb0"/><circle cx="78.6" cy="578.3" r="1.0" fill="#7a2cb0"/><circle cx="187.2" cy="525.5" r="0.9" fill="#7a2cb0"/><circle cx="171.6" cy="573.6" r="0.8" fill="#7a2cb0"/><circle cx="89.3" cy="574.2" r="0.7" fill="#6a22b0"/><circle cx="181.2" cy="540.4" r="1.4" fill="#7a2cb0"/><circle cx="170.6" cy="524.1" r="0.6" fill="#7a2cb0"/><circle cx="132.8" cy="650.0" r="1.4" fill="#6a22b0"/><circle cx="91.1" cy="635.8" r="1.0" fill="#7a2cb0"/><circle cx="91.5" cy="600.7" r="0.6" fill="#8038a8"/><circle cx="155.6" cy="521.1" r="0.7" fill="#7a2cb0"/><circle cx="181.4" cy="556.3" r="0.6" fill="#8038a8"/><circle cx="127.3" cy="522.9" r="1.0" fill="#5a1cb0"/><circle cx="166.8" cy="618.3" r="1.1" fill="#6a22b0"/><circle cx="83.1" cy="585.4" r="0.9" fill="#5a1cb0"/><circle cx="172.7" cy="601.8" r="0.7" fill="#6a22b0"/><circle cx="182.4" cy="574.1" r="1.2" fill="#8038a8"/><circle cx="132.6" cy="654.6" r="1.4" fill="#5a1cb0"/><circle cx="188.9" cy="534.9" r="1.2" fill="#8038a8"/><circle cx="160.7" cy="515.1" r="1.2" fill="#8038a8"/><circle cx="95.7" cy="611.2" r="0.7" fill="#5a1cb0"/><circle cx="179.5" cy="557.1" r="0.9" fill="#6a22b0"/><circle cx="181.7" cy="536.8" r="0.8" fill="#7a2cb0"/><circle cx="104.2" cy="649.2" r="0.7" fill="#8038a8"/><circle cx="114.4" cy="664.7" r="0.9" fill="#6a22b0"/><circle cx="131.7" cy="517.2" r="0.8" fill="#8038a8"/><circle cx="160.2" cy="646.7" r="0.9" fill="#6a22b0"/><circle cx="184.0" cy="545.6" r="1.0" fill="#8038a8"/><circle cx="90.3" cy="544.1" r="0.7" fill="#8038a8"/><circle cx="87.3" cy="596.5" r="1.1" fill="#6a22b0"/><circle cx="170.4" cy="603.1" r="1.0" fill="#7a2cb0"/><circle cx="77.2" cy="582.1" r="0.6" fill="#8038a8"/><circle cx="165.2" cy="618.4" r="0.8" fill="#5a1cb0"/><circle cx="159.5" cy="636.3" r="0.8" fill="#5a1cb0"/><circle cx="99.6" cy="540.2" r="0.6" fill="#7a2cb0"/><circle cx="166.1" cy="611.5" r="1.3" fill="#8038a8"/><circle cx="108.1" cy="530.2" r="0.9" fill="#7a2cb0"/><circle cx="165.5" cy="612.4" r="1.2" fill="#6a22b0"/><circle cx="163.2" cy="649.7" r="1.3" fill="#7a2cb0"/><circle cx="98.9" cy="540.7" r="0.7" fill="#8038a8"/><circle cx="169.1" cy="629.7" r="0.9" fill="#7a2cb0"/><circle cx="134.7" cy="522.5" r="0.9" fill="#5a1cb0"/><circle cx="110.8" cy="661.2" r="1.2" fill="#7a2cb0"/><circle cx="96.5" cy="546.8" r="1.0" fill="#5a1cb0"/><circle cx="83.2" cy="599.7" r="0.8" fill="#7a2cb0"/><circle cx="113.5" cy="665.5" r="1.4" fill="#7a2cb0"/><circle cx="81.3" cy="565.5" r="0.6" fill="#5a1cb0"/><circle cx="167.0" cy="615.2" r="0.8" fill="#5a1cb0"/><circle cx="127.3" cy="518.3" r="0.7" fill="#7a2cb0"/><circle cx="118.0" cy="662.5" r="0.9" fill="#5a1cb0"/><circle cx="175.6" cy="578.1" r="1.3" fill="#6a22b0"/><circle cx="165.8" cy="620.4" r="1.2" fill="#7a2cb0"/><circle cx="161.6" cy="626.2" r="1.2" fill="#5a1cb0"/><circle cx="149.0" cy="510.8" r="0.9" fill="#7a2cb0"/><circle cx="163.4" cy="611.2" r="1.0" fill="#5a1cb0"/><circle cx="123.4" cy="525.0" r="1.1" fill="#8038a8"/><circle cx="180.2" cy="556.6" r="0.8" fill="#6a22b0"/><circle cx="95.1" cy="641.3" r="1.2" fill="#5a1cb0"/><circle cx="85.4" cy="572.6" r="1.2" fill="#5a1cb0"/><circle cx="93.1" cy="562.7" r="1.1" fill="#5a1cb0"/><circle cx="153.3" cy="622.9" r="1.0" fill="#7a2cb0"/><circle cx="174.0" cy="602.9" r="1.0" fill="#6a22b0"/><circle cx="173.4" cy="597.3" r="1.1" fill="#8038a8"/><circle cx="91.5" cy="604.2" r="1.2" fill="#7a2cb0"/><circle cx="83.7" cy="594.3" r="0.7" fill="#8038a8"/><circle cx="87.2" cy="564.9" r="0.8" fill="#6a22b0"/><circle cx="149.6" cy="654.5" r="0.6" fill="#8038a8"/><circle cx="124.4" cy="524.5" r="1.0" fill="#5a1cb0"/><circle cx="126.8" cy="527.6" r="0.9" fill="#6a22b0"/><circle cx="113.1" cy="661.7" r="1.3" fill="#8038a8"/><circle cx="182.0" cy="524.1" r="1.3" fill="#5a1cb0"/><circle cx="91.6" cy="609.8" r="1.2" fill="#5a1cb0"/><circle cx="108.6" cy="651.1" r="1.2" fill="#6a22b0"/><circle cx="96.2" cy="635.3" r="1.2" fill="#5a1cb0"/><circle cx="85.4" cy="582.1" r="0.7" fill="#8038a8"/><circle cx="96.2" cy="544.8" r="0.9" fill="#6a22b0"/><circle cx="96.1" cy="605.1" r="1.3" fill="#7a2cb0"/><circle cx="96.1" cy="629.2" r="1.1" fill="#5a1cb0"/><circle cx="171.7" cy="523.8" r="0.8" fill="#6a22b0"/><circle cx="161.4" cy="641.6" r="1.1" fill="#7a2cb0"/><circle cx="92.6" cy="560.5" r="1.1" fill="#6a22b0"/><circle cx="179.2" cy="579.4" r="0.8" fill="#7a2cb0"/><circle cx="124.0" cy="654.4" r="0.8" fill="#7a2cb0"/><circle cx="82.9" cy="572.1" r="1.2" fill="#5a1cb0"/><circle cx="107.8" cy="661.1" r="1.0" fill="#5a1cb0"/><circle cx="167.9" cy="635.0" r="0.9" fill="#6a22b0"/><circle cx="164.3" cy="637.3" r="0.8" fill="#7a2cb0"/><circle cx="92.9" cy="590.9" r="1.2" fill="#5a1cb0"/><circle cx="95.1" cy="599.7" r="0.8" fill="#6a22b0"/><circle cx="78.7" cy="582.6" r="1.2" fill="#8038a8"/><circle cx="127.6" cy="656.4" r="1.2" fill="#7a2cb0"/><circle cx="189.3" cy="534.5" r="0.7" fill="#5a1cb0"/><circle cx="156.0" cy="645.6" r="1.2" fill="#6a22b0"/><circle cx="177.9" cy="514.9" r="1.3" fill="#6a22b0"/><circle cx="172.3" cy="603.5" r="0.7" fill="#8038a8"/><circle cx="88.4" cy="637.7" r="1.1" fill="#5a1cb0"/><circle cx="97.9" cy="536.5" r="1.3" fill="#6a22b0"/><circle cx="91.1" cy="597.9" r="1.0" fill="#8038a8"/><circle cx="174.5" cy="519.0" r="0.9" fill="#8038a8"/><circle cx="115.7" cy="521.8" r="1.1" fill="#6a22b0"/><circle cx="174.7" cy="598.9" r="1.1" fill="#8038a8"/><circle cx="99.9" cy="623.6" r="1.1" fill="#6a22b0"/><circle cx="78.1" cy="585.8" r="0.8" fill="#6a22b0"/><circle cx="164.9" cy="618.2" r="1.3" fill="#7a2cb0"/><circle cx="81.1" cy="568.1" r="0.9" fill="#5a1cb0"/><circle cx="95.2" cy="548.0" r="1.1" fill="#5a1cb0"/><circle cx="176.8" cy="526.4" r="0.9" fill="#5a1cb0"/><circle cx="131.1" cy="657.9" r="1.0" fill="#8038a8"/><circle cx="130.9" cy="528.9" r="0.7" fill="#7a2cb0"/><circle cx="166.3" cy="522.9" r="1.0" fill="#6a22b0"/><circle cx="136.3" cy="523.0" r="0.7" fill="#8038a8"/><circle cx="101.8" cy="612.5" r="0.9" fill="#7a2cb0"/><circle cx="114.5" cy="664.9" r="1.2" fill="#8038a8"/><circle cx="134.6" cy="514.8" r="0.9" fill="#8a3aa0"/><circle cx="83.5" cy="572.1" r="1.1" fill="#7a2aa8"/><circle cx="93.1" cy="543.1" r="0.9" fill="#7a2aa8"/><circle cx="113.7" cy="667.6" r="1.2" fill="#6a2498"/><circle cx="71.1" cy="592.7" r="0.9" fill="#6a2498"/><circle cx="177.5" cy="516.1" r="1.0" fill="#4a2a9a"/><circle cx="110.4" cy="664.7" r="0.7" fill="#6a2498"/><circle cx="89.6" cy="567.9" r="0.6" fill="#7a2aa8"/><circle cx="160.7" cy="517.1" r="0.6" fill="#6a2498"/><circle cx="205.2" cy="518.8" r="1.0" fill="#6a2498"/><circle cx="105.0" cy="669.4" r="0.8" fill="#5a1c88"/><circle cx="85.9" cy="655.5" r="0.7" fill="#6a2498"/><circle cx="122.3" cy="526.6" r="0.9" fill="#8a3aa0"/><circle cx="170.2" cy="516.2" r="0.6" fill="#5a1c88"/><circle cx="100.6" cy="656.1" r="0.6" fill="#8a3aa0"/><circle cx="147.8" cy="517.4" r="0.9" fill="#4a2a9a"/><circle cx="75.3" cy="618.8" r="1.0" fill="#8a3aa0"/><circle cx="164.0" cy="507.2" r="1.1" fill="#4a2a9a"/><circle cx="232.5" cy="665.2" r="0.9" fill="#7a2aa8"/><circle cx="85.8" cy="637.0" r="0.7" fill="#5a1c88"/><circle cx="99.2" cy="544.9" r="1.0" fill="#7a2aa8"/><circle cx="241.4" cy="638.8" r="1.1" fill="#8a3aa0"/><circle cx="72.8" cy="575.8" r="1.2" fill="#5a1c88"/><circle cx="152.7" cy="517.2" r="0.8" fill="#8a3aa0"/><circle cx="194.0" cy="516.3" r="0.6" fill="#8a3aa0"/><circle cx="88.0" cy="563.3" r="0.5" fill="#7a2aa8"/><circle cx="84.9" cy="627.3" r="0.7" fill="#8a3aa0"/><circle cx="176.8" cy="520.2" r="0.6" fill="#5a1c88"/><circle cx="208.7" cy="527.9" r="0.9" fill="#6a2498"/><circle cx="134.7" cy="518.8" r="0.6" fill="#6a2498"/><circle cx="222.5" cy="546.2" r="1.2" fill="#7a2aa8"/><circle cx="231.3" cy="537.1" r="0.8" fill="#4a2a9a"/><circle cx="79.0" cy="601.2" r="1.1" fill="#8a3aa0"/><circle cx="91.7" cy="556.8" r="1.0" fill="#6a2498"/><circle cx="81.2" cy="634.2" r="0.5" fill="#5a1c88"/><circle cx="89.2" cy="557.4" r="0.6" fill="#8a3aa0"/><circle cx="73.9" cy="574.2" r="0.9" fill="#5a1c88"/><circle cx="232.2" cy="561.9" r="0.5" fill="#4a2a9a"/><circle cx="236.5" cy="555.1" r="0.9" fill="#5a1c88"/><circle cx="72.9" cy="598.8" r="1.0" fill="#8a3aa0"/><circle cx="73.3" cy="583.9" r="0.9" fill="#5a1c88"/><circle cx="176.2" cy="511.2" r="0.7" fill="#6a2498"/><circle cx="77.4" cy="577.6" r="0.5" fill="#7a2aa8"/><circle cx="90.4" cy="551.4" r="0.7" fill="#6a2498"/><circle cx="91.5" cy="544.1" r="0.8" fill="#8a3aa0"/><circle cx="79.7" cy="563.5" r="0.9" fill="#6a2498"/><circle cx="132.5" cy="516.3" r="1.0" fill="#7a2aa8"/><circle cx="75.4" cy="602.9" r="0.7" fill="#4a2a9a"/><circle cx="202.4" cy="531.3" r="0.8" fill="#4a2a9a"/><circle cx="133.1" cy="512.6" r="0.8" fill="#6a2498"/><circle cx="168.8" cy="520.1" r="0.9" fill="#4a2a9a"/><circle cx="248.7" cy="594.2" r="0.6" fill="#8a3aa0"/><circle cx="95.5" cy="655.8" r="1.2" fill="#5a1c88"/><circle cx="122.7" cy="516.5" r="0.7" fill="#8a3aa0"/><circle cx="240.5" cy="567.0" r="0.7" fill="#8a3aa0"/><circle cx="78.1" cy="563.7" r="0.8" fill="#6a2498"/><circle cx="96.0" cy="655.4" r="0.7" fill="#5a1c88"/><circle cx="112.3" cy="674.2" r="0.8" fill="#6a2498"/><circle cx="89.1" cy="655.6" r="0.8" fill="#4a2a9a"/><circle cx="218.7" cy="536.9" r="0.5" fill="#5a1c88"/><circle cx="97.0" cy="539.3" r="0.8" fill="#8a3aa0"/><circle cx="105.3" cy="672.0" r="0.5" fill="#5a1c88"/><circle cx="77.8" cy="591.6" r="0.8" fill="#6a2498"/><circle cx="86.5" cy="650.1" r="1.0" fill="#8a3aa0"/><circle cx="121.3" cy="530.2" r="0.9" fill="#7a2aa8"/><circle cx="79.7" cy="629.4" r="0.7" fill="#7a2aa8"/><circle cx="180.2" cy="680.5" r="0.9" fill="#4a2a9a"/><circle cx="193.5" cy="523.3" r="1.1" fill="#5a1c88"/><circle cx="116.5" cy="521.6" r="1.0" fill="#6a2498"/><circle cx="79.0" cy="607.3" r="0.7" fill="#7a2aa8"/><circle cx="244.6" cy="560.8" r="1.0" fill="#7a2aa8"/><circle cx="168.4" cy="686.9" r="1.1" fill="#4a2a9a"/><circle cx="71.2" cy="614.6" r="1.0" fill="#7a2aa8"/><circle cx="106.4" cy="666.8" r="0.8" fill="#5a1c88"/><circle cx="214.8" cy="527.6" r="0.6" fill="#7a2aa8"/><circle cx="98.6" cy="667.8" r="0.9" fill="#6a2498"/><circle cx="93.2" cy="664.0" r="0.9" fill="#5a1c88"/><circle cx="103.0" cy="540.2" r="0.5" fill="#4a2a9a"/><circle cx="81.6" cy="628.7" r="1.0" fill="#6a2498"/><circle cx="75.3" cy="617.0" r="0.7" fill="#7a2aa8"/><circle cx="129.0" cy="529.6" r="1.2" fill="#8a3aa0"/><circle cx="186.5" cy="523.9" r="0.7" fill="#5a1c88"/><circle cx="143.8" cy="513.9" r="1.1" fill="#6a2498"/><circle cx="77.7" cy="607.0" r="0.8" fill="#7a2aa8"/><circle cx="118.9" cy="524.0" r="0.7" fill="#7a2aa8"/><circle cx="219.9" cy="659.6" r="1.1" fill="#5a1c88"/><circle cx="82.7" cy="595.8" r="1.1" fill="#8a3aa0"/><circle cx="220.3" cy="540.9" r="1.0" fill="#8a3aa0"/><circle cx="132.1" cy="518.1" r="1.0" fill="#7a2aa8"/><circle cx="168.4" cy="509.8" r="1.2" fill="#8a3aa0"/><circle cx="105.5" cy="531.4" r="1.1" fill="#7a2aa8"/><circle cx="122.9" cy="529.7" r="0.8" fill="#5a1c88"/><circle cx="130.6" cy="514.0" r="1.0" fill="#7a2aa8"/><circle cx="87.9" cy="643.7" r="0.5" fill="#6a2498"/><circle cx="144.6" cy="523.5" r="0.7" fill="#7a2aa8"/><circle cx="79.5" cy="581.4" r="1.1" fill="#5a1c88"/><circle cx="212.9" cy="538.2" r="1.1" fill="#4a2a9a"/><circle cx="208.4" cy="529.2" r="0.8" fill="#8a3aa0"/><circle cx="124.8" cy="527.0" r="0.8" fill="#6a2498"/><circle cx="209.9" cy="521.3" r="0.8" fill="#4a2a9a"/><circle cx="126.7" cy="676.6" r="0.7" fill="#8a3aa0"/><circle cx="251.5" cy="631.5" r="1.0" fill="#7a2aa8"/><circle cx="85.6" cy="571.5" r="1.0" fill="#8a3aa0"/><circle cx="95.8" cy="536.4" r="1.2" fill="#6a2498"/><circle cx="78.0" cy="633.7" r="1.1" fill="#6a2498"/><circle cx="126.5" cy="530.5" r="0.7" fill="#8a3aa0"/><circle cx="80.2" cy="594.6" r="0.5" fill="#7a2aa8"/><circle cx="72.6" cy="586.4" r="0.8" fill="#4a2a9a"/><circle cx="192.9" cy="515.6" r="1.2" fill="#5a1c88"/><circle cx="77.5" cy="611.7" r="0.5" fill="#8a3aa0"/><circle cx="87.0" cy="562.2" r="0.9" fill="#7a2aa8"/><circle cx="103.9" cy="541.4" r="1.1" fill="#5a1c88"/><circle cx="126.0" cy="678.5" r="0.6" fill="#6a2498"/><circle cx="159.1" cy="512.0" r="0.7" fill="#6a2498"/><circle cx="198.4" cy="680.3" r="0.8" fill="#5a1c88"/><circle cx="229.7" cy="539.8" r="0.9" fill="#5a1c88"/><circle cx="247.9" cy="567.6" r="1.1" fill="#6a2498"/><circle cx="176.9" cy="523.1" r="1.1" fill="#4a2a9a"/><circle cx="112.3" cy="677.1" r="0.9" fill="#4a2a9a"/><circle cx="78.8" cy="563.8" r="0.8" fill="#4a2a9a"/><circle cx="77.4" cy="619.9" r="0.9" fill="#4a2a9a"/><circle cx="90.8" cy="566.5" r="0.8" fill="#4a2a9a"/><circle cx="84.8" cy="550.1" r="0.9" fill="#6a2498"/><circle cx="100.7" cy="541.3" r="0.8" fill="#8a3aa0"/><circle cx="226.7" cy="531.9" r="0.6" fill="#4a2a9a"/><circle cx="183.3" cy="522.9" r="0.9" fill="#5a1c88"/><circle cx="141.0" cy="512.7" r="0.6" fill="#4a2a9a"/><circle cx="79.7" cy="607.7" r="0.9" fill="#5a1c88"/><circle cx="182.3" cy="520.7" r="1.1" fill="#4a2a9a"/><circle cx="175.2" cy="509.3" r="1.1" fill="#6a2498"/><circle cx="93.5" cy="642.5" r="0.8" fill="#8a3aa0"/><circle cx="73.6" cy="608.1" r="0.9" fill="#8a3aa0"/><circle cx="85.9" cy="637.8" r="1.1" fill="#7a2aa8"/><circle cx="172.1" cy="513.9" r="0.6" fill="#5a1c88"/><circle cx="99.1" cy="549.1" r="1.0" fill="#5a1c88"/><circle cx="155.7" cy="517.7" r="0.6" fill="#4a2a9a"/><circle cx="103.7" cy="661.6" r="0.9" fill="#6a2498"/><circle cx="247.4" cy="569.6" r="0.8" fill="#6a2498"/><circle cx="231.8" cy="664.6" r="1.0" fill="#5a1c88"/><circle cx="80.7" cy="626.0" r="0.9" fill="#4a2a9a"/><circle cx="81.3" cy="629.5" r="0.9" fill="#7a2aa8"/><circle cx="114.2" cy="526.6" r="1.0" fill="#5a1c88"/><circle cx="112.6" cy="679.7" r="0.6" fill="#8a3aa0"/><circle cx="117.4" cy="532.6" r="0.5" fill="#7a2aa8"/><circle cx="133.1" cy="514.9" r="1.0" fill="#5a1c88"/><circle cx="209.1" cy="670.5" r="0.7" fill="#8a3aa0"/><circle cx="118.0" cy="519.0" r="1.2" fill="#5a1c88"/><circle cx="92.1" cy="656.9" r="1.2" fill="#5a1c88"/><circle cx="95.3" cy="650.4" r="0.6" fill="#8a3aa0"/><circle cx="104.3" cy="664.6" r="0.5" fill="#5a1c88"/><circle cx="183.3" cy="514.5" r="1.0" fill="#4a2a9a"/><circle cx="83.4" cy="583.7" r="0.7" fill="#5a1c88"/><circle cx="74.7" cy="597.9" r="1.0" fill="#6a2498"/><circle cx="77.9" cy="596.8" r="0.7" fill="#6a2498"/><circle cx="91.7" cy="644.8" r="0.6" fill="#4a2a9a"/><circle cx="236.9" cy="659.0" r="0.6" fill="#8a3aa0"/><circle cx="182.3" cy="671.5" r="0.9" fill="#5a20a8"/><circle cx="181.7" cy="682.8" r="0.6" fill="#6a2498"/><circle cx="128.9" cy="657.6" r="1.1" fill="#7a2ab8"/><circle cx="104.9" cy="658.0" r="1.4" fill="#5a20a8"/><circle cx="163.6" cy="686.5" r="0.9" fill="#7a2ab8"/><circle cx="102.1" cy="655.6" r="0.6" fill="#7a2ab8"/><circle cx="124.6" cy="669.3" r="1.1" fill="#5a20a8"/><circle cx="180.2" cy="674.1" r="1.0" fill="#6a2498"/><circle cx="130.5" cy="658.0" r="1.2" fill="#7a2ab8"/><circle cx="114.8" cy="645.1" r="1.2" fill="#7a2ab8"/><circle cx="127.3" cy="665.8" r="0.9" fill="#6a2498"/><circle cx="123.0" cy="671.9" r="0.6" fill="#7a2ab8"/><circle cx="144.3" cy="664.0" r="0.7" fill="#6a2498"/><circle cx="159.2" cy="641.9" r="0.8" fill="#6a2498"/><circle cx="141.8" cy="671.6" r="1.2" fill="#7a2ab8"/><circle cx="181.5" cy="661.9" r="1.0" fill="#7a2ab8"/><circle cx="170.6" cy="652.6" r="1.2" fill="#6a2498"/><circle cx="123.4" cy="669.9" r="1.0" fill="#7a2ab8"/><circle cx="99.8" cy="645.6" r="0.7" fill="#7a2ab8"/><circle cx="167.7" cy="696.6" r="1.1" fill="#7a2ab8"/><circle cx="131.2" cy="657.1" r="1.1" fill="#6a2498"/><circle cx="130.7" cy="653.5" r="0.7" fill="#6a2498"/><circle cx="165.9" cy="678.5" r="0.6" fill="#7a2ab8"/><circle cx="152.5" cy="641.3" r="1.3" fill="#6a2498"/><circle cx="147.2" cy="640.3" r="1.2" fill="#7a2ab8"/><circle cx="125.2" cy="677.5" r="1.3" fill="#6a2498"/><circle cx="110.5" cy="645.0" r="1.1" fill="#6a2498"/><circle cx="129.0" cy="666.9" r="0.9" fill="#6a2498"/><circle cx="160.5" cy="690.1" r="1.4" fill="#7a2ab8"/><circle cx="155.0" cy="672.9" r="0.6" fill="#6a2498"/><circle cx="130.7" cy="681.5" r="1.1" fill="#6a2498"/><circle cx="178.0" cy="652.7" r="0.9" fill="#5a20a8"/><circle cx="109.0" cy="656.4" r="0.9" fill="#7a2ab8"/><circle cx="178.7" cy="652.0" r="1.1" fill="#7a2ab8"/><circle cx="139.4" cy="681.4" r="0.8" fill="#7a2ab8"/><circle cx="110.0" cy="675.1" r="0.7" fill="#7a2ab8"/><circle cx="169.1" cy="679.1" r="0.8" fill="#5a20a8"/><circle cx="156.5" cy="667.2" r="1.0" fill="#7a2ab8"/><circle cx="127.2" cy="675.0" r="0.9" fill="#7a2ab8"/><circle cx="124.5" cy="681.8" r="0.7" fill="#7a2ab8"/><circle cx="126.6" cy="664.6" r="0.5" fill="#6a2498"/><circle cx="167.2" cy="655.3" r="0.7" fill="#6a2498"/><circle cx="133.9" cy="677.1" r="1.0" fill="#7a2ab8"/><circle cx="176.9" cy="667.3" r="0.9" fill="#6a2498"/><circle cx="111.8" cy="677.2" r="1.1" fill="#5a20a8"/><circle cx="171.3" cy="642.1" r="1.1" fill="#5a20a8"/><circle cx="109.4" cy="669.4" r="0.9" fill="#7a2ab8"/><circle cx="180.6" cy="685.9" r="1.2" fill="#6a2498"/><circle cx="117.2" cy="649.4" r="1.4" fill="#5a20a8"/><circle cx="161.4" cy="660.7" r="0.6" fill="#6a2498"/><circle cx="147.4" cy="694.0" r="1.3" fill="#5a20a8"/><circle cx="124.2" cy="646.5" r="1.2" fill="#7a2ab8"/><circle cx="149.7" cy="689.8" r="1.4" fill="#6a2498"/><circle cx="117.4" cy="641.2" r="1.0" fill="#7a2ab8"/><circle cx="155.1" cy="657.2" r="1.0" fill="#7a2ab8"/><circle cx="138.6" cy="656.4" r="0.8" fill="#7a2ab8"/><circle cx="179.9" cy="649.1" r="0.9" fill="#5a20a8"/><circle cx="171.9" cy="676.6" r="1.0" fill="#5a20a8"/><circle cx="158.2" cy="675.4" r="1.1" fill="#7a2ab8"/><circle cx="127.6" cy="687.2" r="0.7" fill="#7a2ab8"/><circle cx="156.8" cy="660.7" r="0.7" fill="#5a20a8"/><circle cx="140.5" cy="674.0" r="0.8" fill="#6a2498"/><circle cx="101.8" cy="673.0" r="1.0" fill="#5a20a8"/><circle cx="161.9" cy="658.1" r="0.5" fill="#5a20a8"/><circle cx="181.5" cy="651.7" r="0.8" fill="#7a2ab8"/><circle cx="173.5" cy="643.7" r="1.1" fill="#6a2498"/><circle cx="107.7" cy="664.8" r="0.6" fill="#5a20a8"/><circle cx="177.8" cy="672.5" r="0.9" fill="#5a20a8"/><circle cx="111.6" cy="671.6" r="0.8" fill="#7a2ab8"/><circle cx="178.3" cy="692.8" r="0.6" fill="#6a2498"/><circle cx="138.7" cy="644.7" r="0.9" fill="#5a20a8"/><circle cx="179.6" cy="693.9" r="0.6" fill="#7a2ab8"/><circle cx="118.0" cy="653.2" r="0.7" fill="#6a2498"/><circle cx="178.3" cy="691.5" r="1.3" fill="#6a2498"/><circle cx="149.8" cy="687.7" r="1.4" fill="#5a20a8"/><circle cx="150.1" cy="676.8" r="1.3" fill="#6a2498"/><circle cx="164.2" cy="649.4" r="1.3" fill="#6a2498"/><circle cx="181.1" cy="641.4" r="0.5" fill="#6a2498"/><circle cx="157.0" cy="671.2" r="1.0" fill="#5a20a8"/><circle cx="167.7" cy="640.0" r="0.6" fill="#6a2498"/><circle cx="182.8" cy="690.0" r="0.9" fill="#7a2ab8"/><circle cx="114.7" cy="663.5" r="1.3" fill="#6a2498"/><circle cx="118.6" cy="675.1" r="1.0" fill="#7a2ab8"/><circle cx="141.9" cy="661.1" r="1.1" fill="#7a2ab8"/><circle cx="110.8" cy="649.0" r="0.7" fill="#7a2ab8"/><circle cx="111.6" cy="680.7" r="1.0" fill="#5a20a8"/><circle cx="142.0" cy="655.3" r="1.3" fill="#6a2498"/><circle cx="123.0" cy="643.9" r="1.0" fill="#5a20a8"/><circle cx="160.4" cy="680.4" r="1.2" fill="#5a20a8"/><circle cx="140.3" cy="666.5" r="0.5" fill="#5a20a8"/><circle cx="184.1" cy="662.2" r="0.8" fill="#6a2498"/><circle cx="184.1" cy="663.2" r="0.6" fill="#5a20a8"/><circle cx="165.4" cy="660.3" r="1.2" fill="#7a2ab8"/><circle cx="176.6" cy="673.7" r="1.3" fill="#6a2498"/><circle cx="137.8" cy="689.1" r="0.5" fill="#7a2ab8"/><circle cx="133.2" cy="649.5" r="0.6" fill="#6a2498"/><circle cx="178.8" cy="660.5" r="1.3" fill="#6a2498"/><circle cx="167.3" cy="659.2" r="0.5" fill="#6a2498"/><circle cx="174.4" cy="683.6" r="1.4" fill="#7a2ab8"/><circle cx="128.1" cy="683.6" r="1.3" fill="#6a2498"/>
<circle cx="111.0" cy="562.6" r="0.56" fill="#50f070"/><circle cx="116.0" cy="595.9" r="0.53" fill="#38f048"/><circle cx="159.9" cy="613.8" r="1.03" fill="#38f048"/><circle cx="152.1" cy="601.8" r="1.17" fill="#70d0ff"/><circle cx="167.8" cy="590.1" r="0.83" fill="#50f070"/><circle cx="161.5" cy="591.4" r="0.98" fill="#c0f8f0"/><circle cx="162.9" cy="618.1" r="0.88" fill="#58e888"/><circle cx="125.8" cy="592.1" r="0.97" fill="#70d0ff"/><circle cx="111.6" cy="538.3" r="0.86" fill="#38f048"/><circle cx="142.3" cy="561.9" r="0.99" fill="#a0f0e0"/><circle cx="128.2" cy="623.6" r="0.74" fill="#40e860"/><circle cx="117.2" cy="564.7" r="0.72" fill="#50f070"/><circle cx="159.0" cy="590.5" r="0.80" fill="#50f070"/><circle cx="95.0" cy="558.7" r="0.61" fill="#38f048"/><circle cx="131.9" cy="628.4" r="0.95" fill="#70d0ff"/><circle cx="163.5" cy="609.5" r="1.14" fill="#40e860"/><circle cx="140.0" cy="575.8" r="0.68" fill="#50f070"/><circle cx="136.7" cy="540.3" r="0.81" fill="#40e860"/><circle cx="126.6" cy="602.6" r="0.90" fill="#40e860"/><circle cx="174.4" cy="569.1" r="1.00" fill="#58e888"/><circle cx="158.3" cy="612.9" r="0.52" fill="#a0f0e0"/><circle cx="171.8" cy="591.6" r="1.17" fill="#30d850"/><circle cx="164.5" cy="594.7" r="0.65" fill="#58e888"/><circle cx="122.4" cy="590.0" r="0.91" fill="#30d850"/><circle cx="115.3" cy="594.7" r="0.85" fill="#58e888"/><circle cx="148.6" cy="561.6" r="0.98" fill="#70d0ff"/><circle cx="139.9" cy="578.4" r="0.67" fill="#a0f0e0"/><circle cx="118.1" cy="620.3" r="0.65" fill="#50f070"/><circle cx="146.1" cy="637.6" r="1.15" fill="#c0f8f0"/><circle cx="162.9" cy="541.0" r="1.11" fill="#58e888"/><circle cx="143.3" cy="606.7" r="0.82" fill="#70d0ff"/><circle cx="121.1" cy="595.1" r="0.96" fill="#38f048"/><circle cx="133.6" cy="550.9" r="1.12" fill="#58e888"/><circle cx="121.4" cy="558.7" r="0.80" fill="#38f048"/><circle cx="136.0" cy="566.2" r="0.89" fill="#c0f8f0"/><circle cx="144.6" cy="550.9" r="1.07" fill="#40e860"/><circle cx="147.7" cy="532.1" r="0.68" fill="#30d850"/><circle cx="140.4" cy="584.6" r="0.87" fill="#c0f8f0"/><circle cx="131.7" cy="585.6" r="0.96" fill="#38f048"/><circle cx="133.0" cy="539.2" r="0.99" fill="#58e888"/><circle cx="162.5" cy="618.5" r="0.78" fill="#c0f8f0"/><circle cx="115.8" cy="541.7" r="0.62" fill="#70d0ff"/><circle cx="151.9" cy="594.1" r="0.69" fill="#70d0ff"/><circle cx="156.2" cy="569.5" r="0.52" fill="#c0f8f0"/><circle cx="147.4" cy="557.2" r="0.75" fill="#38f048"/><circle cx="142.4" cy="574.2" r="0.57" fill="#40e860"/><circle cx="164.7" cy="593.2" r="0.54" fill="#58e888"/><circle cx="148.6" cy="588.9" r="0.89" fill="#a0f0e0"/><circle cx="157.2" cy="590.0" r="0.83" fill="#40e860"/><circle cx="173.0" cy="550.1" r="0.98" fill="#38f048"/><circle cx="120.3" cy="584.1" r="0.70" fill="#70d0ff"/><circle cx="138.7" cy="615.6" r="0.93" fill="#40e860"/><circle cx="141.8" cy="605.3" r="0.98" fill="#38f048"/><circle cx="102.1" cy="563.5" r="0.55" fill="#70d0ff"/><circle cx="153.7" cy="584.2" r="1.11" fill="#40e860"/><circle cx="155.5" cy="536.6" r="0.89" fill="#38f048"/><circle cx="166.8" cy="572.3" r="0.91" fill="#40e860"/><circle cx="117.2" cy="654.6" r="1.18" fill="#50f070"/><circle cx="150.7" cy="603.9" r="1.03" fill="#70d0ff"/><circle cx="150.4" cy="588.0" r="1.05" fill="#a0f0e0"/><circle cx="121.0" cy="545.7" r="1.06" fill="#c0f8f0"/><circle cx="157.5" cy="564.7" r="0.77" fill="#30d850"/><circle cx="131.4" cy="558.4" r="0.67" fill="#40e860"/><circle cx="136.1" cy="655.3" r="0.68" fill="#50f070"/><circle cx="137.7" cy="555.5" r="1.19" fill="#50f070"/><circle cx="119.0" cy="619.1" r="0.79" fill="#40e860"/><circle cx="174.6" cy="568.9" r="0.85" fill="#70d0ff"/><circle cx="107.5" cy="585.1" r="0.81" fill="#70d0ff"/><circle cx="138.5" cy="585.9" r="0.59" fill="#40e860"/><circle cx="158.0" cy="570.6" r="0.56" fill="#a0f0e0"/><circle cx="143.5" cy="588.8" r="0.70" fill="#58e888"/><circle cx="125.7" cy="549.8" r="1.04" fill="#c0f8f0"/><circle cx="168.1" cy="559.9" r="1.09" fill="#70d0ff"/><circle cx="158.9" cy="610.6" r="1.04" fill="#a0f0e0"/><circle cx="131.9" cy="556.7" r="0.73" fill="#70d0ff"/><circle cx="103.9" cy="605.4" r="0.63" fill="#30d850"/><circle cx="123.0" cy="552.1" r="0.55" fill="#40e860"/><circle cx="141.6" cy="562.3" r="1.10" fill="#38f048"/><circle cx="129.8" cy="601.6" r="0.88" fill="#38f048"/><circle cx="109.1" cy="536.8" r="0.59" fill="#70d0ff"/><circle cx="107.6" cy="614.1" r="0.90" fill="#70d0ff"/><circle cx="105.3" cy="600.1" r="1.10" fill="#38f048"/><circle cx="133.7" cy="581.7" r="1.14" fill="#c0f8f0"/><circle cx="145.4" cy="595.6" r="0.70" fill="#c0f8f0"/><circle cx="141.8" cy="585.9" r="0.84" fill="#30d850"/><circle cx="143.9" cy="572.6" r="1.06" fill="#58e888"/><circle cx="106.0" cy="629.3" r="0.98" fill="#58e888"/><circle cx="136.9" cy="547.3" r="0.81" fill="#a0f0e0"/><circle cx="108.9" cy="632.0" r="1.12" fill="#40e860"/><circle cx="139.4" cy="578.7" r="0.99" fill="#c0f8f0"/><circle cx="134.0" cy="613.2" r="1.08" fill="#70d0ff"/><circle cx="156.7" cy="574.4" r="1.14" fill="#30d850"/><circle cx="146.8" cy="576.1" r="1.09" fill="#a0f0e0"/><circle cx="142.2" cy="604.2" r="0.92" fill="#a0f0e0"/><circle cx="143.7" cy="608.8" r="0.82" fill="#70d0ff"/><circle cx="156.9" cy="551.8" r="0.64" fill="#c0f8f0"/><circle cx="158.9" cy="595.6" r="0.59" fill="#70d0ff"/><circle cx="136.3" cy="543.7" r="0.78" fill="#58e888"/><circle cx="155.2" cy="539.3" r="0.98" fill="#58e888"/><circle cx="165.8" cy="593.7" r="1.14" fill="#a0f0e0"/><circle cx="164.7" cy="620.6" r="0.87" fill="#50f070"/><circle cx="151.8" cy="591.7" r="1.06" fill="#70d0ff"/><circle cx="110.4" cy="561.4" r="0.58" fill="#40e860"/><circle cx="141.9" cy="581.6" r="0.72" fill="#38f048"/><circle cx="165.5" cy="579.8" r="0.59" fill="#50f070"/><circle cx="148.4" cy="572.0" r="0.85" fill="#50f070"/><circle cx="157.5" cy="535.3" r="0.56" fill="#38f048"/><circle cx="148.5" cy="556.7" r="0.50" fill="#58e888"/><circle cx="135.7" cy="580.8" r="0.74" fill="#50f070"/><circle cx="167.9" cy="598.1" r="0.90" fill="#70d0ff"/><circle cx="120.3" cy="575.9" r="1.08" fill="#70d0ff"/><circle cx="161.1" cy="633.4" r="0.95" fill="#70d0ff"/><circle cx="129.6" cy="610.3" r="1.14" fill="#50f070"/><circle cx="112.9" cy="598.5" r="1.18" fill="#c0f8f0"/><circle cx="140.9" cy="567.5" r="1.15" fill="#c0f8f0"/><circle cx="100.6" cy="564.0" r="1.09" fill="#70d0ff"/><circle cx="148.0" cy="588.4" r="0.63" fill="#70d0ff"/><circle cx="151.6" cy="614.7" r="1.02" fill="#50f070"/><circle cx="142.0" cy="643.2" r="1.17" fill="#c0f8f0"/><circle cx="157.5" cy="577.6" r="1.15" fill="#70d0ff"/><circle cx="152.2" cy="577.8" r="0.64" fill="#c0f8f0"/><circle cx="180.3" cy="546.6" r="0.71" fill="#40e860"/><circle cx="126.0" cy="602.1" r="0.66" fill="#38f048"/><circle cx="123.7" cy="575.7" r="0.76" fill="#30d850"/><circle cx="138.5" cy="587.7" r="0.56" fill="#58e888"/><circle cx="143.1" cy="582.3" r="0.58" fill="#a0f0e0"/><circle cx="124.8" cy="586.2" r="1.05" fill="#58e888"/><circle cx="168.9" cy="526.8" r="0.82" fill="#30d850"/><circle cx="104.8" cy="575.7" r="1.08" fill="#40e860"/><circle cx="102.0" cy="560.8" r="0.76" fill="#a0f0e0"/><circle cx="157.5" cy="578.9" r="1.13" fill="#a0f0e0"/><circle cx="145.7" cy="569.4" r="0.50" fill="#58e888"/><circle cx="150.7" cy="636.4" r="1.17" fill="#30d850"/><circle cx="124.4" cy="604.2" r="0.52" fill="#50f070"/><circle cx="133.7" cy="613.5" r="0.59" fill="#58e888"/><circle cx="143.4" cy="590.8" r="1.00" fill="#70d0ff"/><circle cx="110.9" cy="590.6" r="0.72" fill="#30d850"/><circle cx="146.3" cy="608.8" r="0.88" fill="#30d850"/><circle cx="158.0" cy="579.0" r="1.17" fill="#50f070"/><circle cx="168.7" cy="536.7" r="1.12" fill="#50f070"/><circle cx="124.4" cy="608.8" r="1.13" fill="#40e860"/><circle cx="168.9" cy="583.0" r="0.99" fill="#c0f8f0"/><circle cx="173.5" cy="554.9" r="1.16" fill="#38f048"/><circle cx="159.0" cy="613.0" r="0.61" fill="#50f070"/><circle cx="151.1" cy="570.1" r="0.97" fill="#a0f0e0"/><circle cx="141.2" cy="575.9" r="0.97" fill="#40e860"/><circle cx="113.6" cy="549.0" r="0.82" fill="#38f048"/><circle cx="116.7" cy="536.2" r="0.54" fill="#c0f8f0"/><circle cx="133.1" cy="562.6" r="0.92" fill="#38f048"/><circle cx="169.5" cy="583.0" r="1.00" fill="#58e888"/><circle cx="112.7" cy="560.8" r="0.92" fill="#50f070"/><circle cx="159.4" cy="582.0" r="0.73" fill="#70d0ff"/><circle cx="122.4" cy="580.1" r="0.84" fill="#c0f8f0"/><circle cx="127.9" cy="581.2" r="0.79" fill="#50f070"/><circle cx="151.4" cy="528.1" r="1.11" fill="#a0f0e0"/><circle cx="144.4" cy="523.8" r="1.08" fill="#a0f0e0"/><circle cx="163.3" cy="606.7" r="1.18" fill="#58e888"/><circle cx="127.6" cy="583.4" r="1.08" fill="#58e888"/><circle cx="106.7" cy="612.3" r="1.12" fill="#70d0ff"/><circle cx="159.8" cy="573.4" r="0.92" fill="#50f070"/><circle cx="150.8" cy="635.5" r="0.54" fill="#a0f0e0"/><circle cx="175.8" cy="546.4" r="0.85" fill="#38f048"/><circle cx="143.8" cy="582.6" r="0.73" fill="#50f070"/><circle cx="155.2" cy="614.6" r="0.79" fill="#a0f0e0"/><circle cx="160.6" cy="565.9" r="0.64" fill="#c0f8f0"/><circle cx="120.2" cy="587.8" r="0.94" fill="#c0f8f0"/><circle cx="163.2" cy="576.6" r="0.57" fill="#58e888"/><circle cx="150.0" cy="577.7" r="0.73" fill="#70d0ff"/><circle cx="150.4" cy="610.6" r="1.14" fill="#38f048"/><circle cx="117.2" cy="603.0" r="0.75" fill="#50f070"/><circle cx="124.8" cy="583.3" r="0.54" fill="#50f070"/><circle cx="128.3" cy="558.8" r="0.62" fill="#70d0ff"/><circle cx="164.7" cy="617.0" r="0.91" fill="#a0f0e0"/><circle cx="123.8" cy="594.7" r="0.98" fill="#a0f0e0"/><circle cx="160.5" cy="573.2" r="1.19" fill="#50f070"/><circle cx="166.8" cy="558.1" r="0.76" fill="#50f070"/><circle cx="126.2" cy="611.2" r="0.90" fill="#50f070"/><circle cx="117.7" cy="561.5" r="0.52" fill="#40e860"/><circle cx="110.1" cy="575.8" r="1.03" fill="#30d850"/><circle cx="142.7" cy="649.5" r="0.62" fill="#c0f8f0"/><circle cx="140.2" cy="582.4" r="0.72" fill="#40e860"/><circle cx="149.7" cy="591.0" r="0.55" fill="#70d0ff"/><circle cx="156.9" cy="629.5" r="0.69" fill="#38f048"/><circle cx="111.6" cy="641.2" r="0.92" fill="#a0f0e0"/><circle cx="173.2" cy="567.3" r="0.57" fill="#c0f8f0"/><circle cx="153.8" cy="596.6" r="0.86" fill="#30d850"/><circle cx="123.0" cy="560.0" r="0.71" fill="#70d0ff"/><circle cx="166.9" cy="589.3" r="0.62" fill="#38f048"/><circle cx="126.4" cy="551.2" r="0.83" fill="#38f048"/><circle cx="161.6" cy="614.4" r="0.69" fill="#70d0ff"/><circle cx="139.7" cy="609.1" r="0.70" fill="#70d0ff"/><circle cx="128.7" cy="609.5" r="0.75" fill="#a0f0e0"/><circle cx="160.8" cy="615.1" r="0.93" fill="#c0f8f0"/><circle cx="174.3" cy="589.7" r="1.05" fill="#70d0ff"/><circle cx="111.7" cy="605.6" r="0.97" fill="#c0f8f0"/><circle cx="136.1" cy="579.9" r="0.80" fill="#40e860"/><circle cx="155.5" cy="572.1" r="0.90" fill="#a0f0e0"/><circle cx="148.2" cy="611.2" r="0.50" fill="#38f048"/><circle cx="115.3" cy="599.5" r="1.10" fill="#a0f0e0"/><circle cx="132.7" cy="604.2" r="1.07" fill="#38f048"/><circle cx="136.8" cy="558.3" r="1.14" fill="#40e860"/><circle cx="146.5" cy="614.3" r="0.66" fill="#38f048"/><circle cx="123.7" cy="597.8" r="0.83" fill="#30d850"/><circle cx="124.8" cy="550.3" r="0.67" fill="#a0f0e0"/><circle cx="156.0" cy="565.7" r="0.78" fill="#38f048"/><circle cx="164.2" cy="612.4" r="1.18" fill="#30d850"/><circle cx="164.3" cy="606.9" r="0.51" fill="#c0f8f0"/><circle cx="163.1" cy="594.2" r="0.91" fill="#70d0ff"/><circle cx="139.0" cy="563.8" r="1.03" fill="#30d850"/><circle cx="164.8" cy="584.2" r="0.64" fill="#38f048"/><circle cx="133.5" cy="616.5" r="0.81" fill="#70d0ff"/><circle cx="111.7" cy="573.2" r="0.51" fill="#70d0ff"/><circle cx="166.2" cy="586.5" r="0.68" fill="#38f048"/><circle cx="143.1" cy="617.5" r="0.98" fill="#c0f8f0"/><circle cx="170.2" cy="586.5" r="0.82" fill="#a0f0e0"/><circle cx="133.7" cy="620.2" r="0.86" fill="#58e888"/><circle cx="121.4" cy="622.2" r="1.03" fill="#30d850"/><circle cx="127.4" cy="618.0" r="0.66" fill="#58e888"/><circle cx="148.4" cy="590.1" r="0.76" fill="#30d850"/><circle cx="141.5" cy="576.7" r="0.82" fill="#50f070"/><circle cx="170.9" cy="589.7" r="0.86" fill="#38f048"/><circle cx="126.4" cy="553.9" r="0.82" fill="#58e888"/><circle cx="147.8" cy="597.7" r="0.91" fill="#70d0ff"/><circle cx="161.4" cy="596.1" r="0.88" fill="#a0f0e0"/><circle cx="146.2" cy="612.2" r="0.72" fill="#a0f0e0"/><circle cx="120.1" cy="545.3" r="0.81" fill="#58e888"/><circle cx="175.5" cy="567.0" r="1.13" fill="#a0f0e0"/><circle cx="148.1" cy="613.5" r="0.82" fill="#a0f0e0"/><circle cx="119.2" cy="557.1" r="1.16" fill="#38f048"/><circle cx="140.1" cy="544.1" r="0.87" fill="#a0f0e0"/><circle cx="145.0" cy="573.4" r="0.98" fill="#c0f8f0"/><circle cx="147.4" cy="540.1" r="0.68" fill="#30d850"/><circle cx="148.8" cy="590.1" r="1.07" fill="#58e888"/><circle cx="145.6" cy="603.7" r="1.06" fill="#30d850"/><circle cx="133.4" cy="526.0" r="0.79" fill="#38f048"/><circle cx="136.9" cy="564.7" r="0.90" fill="#58e888"/><circle cx="144.6" cy="561.1" r="0.74" fill="#c0f8f0"/><circle cx="146.2" cy="624.6" r="1.08" fill="#50f070"/><circle cx="119.3" cy="543.7" r="0.94" fill="#50f070"/><circle cx="128.9" cy="536.7" r="1.15" fill="#50f070"/><circle cx="118.0" cy="588.8" r="0.71" fill="#a0f0e0"/><circle cx="172.6" cy="585.0" r="0.83" fill="#a0f0e0"/><circle cx="127.1" cy="588.4" r="0.74" fill="#30d850"/><circle cx="124.4" cy="591.2" r="1.17" fill="#58e888"/><circle cx="164.9" cy="557.2" r="0.90" fill="#50f070"/><circle cx="113.6" cy="600.0" r="0.80" fill="#38f048"/><circle cx="142.2" cy="566.2" r="1.01" fill="#c0f8f0"/><circle cx="128.2" cy="605.8" r="0.98" fill="#40e860"/><circle cx="126.8" cy="561.6" r="1.15" fill="#40e860"/><circle cx="125.9" cy="560.4" r="1.13" fill="#58e888"/><circle cx="125.4" cy="649.6" r="1.09" fill="#40e860"/><circle cx="139.6" cy="554.2" r="1.17" fill="#38f048"/><circle cx="136.6" cy="563.9" r="1.15" fill="#58e888"/><circle cx="151.9" cy="597.6" r="1.17" fill="#30d850"/><circle cx="143.3" cy="593.1" r="0.95" fill="#a0f0e0"/><circle cx="143.0" cy="538.8" r="0.85" fill="#38f048"/><circle cx="119.8" cy="542.2" r="0.69" fill="#a0f0e0"/><circle cx="112.0" cy="566.6" r="1.19" fill="#a0f0e0"/><circle cx="169.8" cy="590.5" r="0.75" fill="#40e860"/><circle cx="126.8" cy="549.7" r="0.84" fill="#50f070"/><circle cx="143.0" cy="621.5" r="0.63" fill="#30d850"/><circle cx="125.5" cy="597.4" r="1.06" fill="#58e888"/><circle cx="134.1" cy="604.5" r="1.18" fill="#a0f0e0"/><circle cx="173.7" cy="561.6" r="0.74" fill="#38f048"/><circle cx="144.2" cy="588.9" r="0.89" fill="#58e888"/><circle cx="155.2" cy="645.2" r="0.83" fill="#30d850"/><circle cx="142.1" cy="579.3" r="0.57" fill="#c0f8f0"/><circle cx="122.1" cy="554.7" r="1.05" fill="#38f048"/><circle cx="135.6" cy="582.3" r="1.05" fill="#50f070"/>
<path d="M225.0,539.0C225.7,536.8 230.5,535.3 233.0,536.0C235.5,536.7 238.5,540.3 240.0,543.0C241.5,545.7 242.7,550.2 242.0,552.0C241.3,553.8 238.2,554.5 236.0,554.0C233.8,553.5 230.8,551.5 229.0,549.0C227.2,546.5 224.3,541.2 225.0,539.0Z" fill="#5a2aa8" filter="url(#rough)"/>
<rect x="221" y="560" width="4" height="3" fill="#c8c8b8" opacity="0.8"/>
<rect x="78.3" y="687" width="28.2" height="2" fill="#fff"/>
<text x="92.5" y="685.5" font-family="Liberation Sans, sans-serif" font-size="3.5" fill="#ddd" text-anchor="middle">100 µm</text>
<text x="71" y="511.2" font-family="Liberation Sans, sans-serif" font-weight="bold" font-size="19.5" fill="#fff">C</text>
<clipPath id="dclip"><ellipse cx="353" cy="598" rx="94" ry="89"/></clipPath>
<clipPath id="c_po_tl"><path d="M268.5,557.5C268.3,554.3 269.8,545.6 273.0,540.0C276.2,534.4 283.3,527.0 287.7,523.8C292.1,520.5 296.6,519.0 299.2,520.5C301.8,522.0 303.3,528.2 303.0,532.5C302.7,536.8 298.9,541.8 297.3,546.0C295.7,550.2 295.1,555.0 293.5,557.5C291.9,560.0 290.9,561.0 287.7,561.3C284.5,561.6 277.4,560.0 274.2,559.4C271.0,558.8 268.7,560.7 268.5,557.5Z"/></clipPath>
<clipPath id="c_po_tr"><path d="M324.0,521.0C325.2,517.0 329.2,513.5 333.0,511.0C336.8,508.5 343.0,505.7 347.0,506.0C351.0,506.3 355.3,509.2 357.0,513.0C358.7,516.8 357.8,524.3 357.0,529.0C356.2,533.7 355.5,538.7 352.0,541.0C348.5,543.3 340.3,544.0 336.0,543.0C331.7,542.0 328.0,538.7 326.0,535.0C324.0,531.3 322.8,525.0 324.0,521.0Z"/></clipPath>
<clipPath id="c_po_main"><path d="M272.0,606.0C275.7,603.8 286.0,605.7 290.0,603.0C294.0,600.3 293.5,593.2 296.0,590.0C298.5,586.8 301.3,584.7 305.0,584.0C308.7,583.3 314.8,583.8 318.0,586.0C321.2,588.2 322.5,592.7 324.0,597.0C325.5,601.3 326.0,606.2 327.0,612.0C328.0,617.8 327.5,626.0 330.0,632.0C332.5,638.0 337.0,643.3 342.0,648.0C347.0,652.7 353.3,655.3 360.0,660.0C366.7,664.7 380.7,671.5 382.0,676.0C383.3,680.5 374.0,684.8 368.0,687.0C362.0,689.2 354.3,689.3 346.0,689.0C337.7,688.7 326.3,687.7 318.0,685.0C309.7,682.3 302.5,678.2 296.0,673.0C289.5,667.8 283.3,660.8 279.0,654.0C274.7,647.2 271.8,638.3 270.0,632.0C268.2,625.7 267.7,620.3 268.0,616.0C268.3,611.7 268.3,608.2 272.0,606.0Z"/></clipPath>
<clipPath id="c_strip"><path d="M257.0,564.0C258.7,558.0 263.8,560.0 266.0,564.0C268.2,568.0 269.3,580.7 270.0,588.0C270.7,595.3 271.2,603.7 270.0,608.0C268.8,612.3 265.3,615.3 263.0,614.0C260.7,612.7 257.0,608.3 256.0,600.0C255.0,591.7 255.3,570.0 257.0,564.0Z"/></clipPath>
<clipPath id="c_olive_r"><path d="M432.0,556.0C434.7,554.5 442.8,560.3 446.0,566.0C449.2,571.7 450.8,583.7 451.0,590.0C451.2,596.3 449.3,603.3 447.0,604.0C444.7,604.7 439.8,598.8 437.0,594.0C434.2,589.2 430.8,581.3 430.0,575.0C429.2,568.7 429.3,557.5 432.0,556.0Z"/></clipPath>
<clipPath id="c_dkpur"><path d="M292.0,520.0C293.3,516.2 301.2,511.0 310.0,509.0C318.8,507.0 339.2,505.8 345.0,508.0C350.8,510.2 347.5,518.0 345.0,522.0C342.5,526.0 334.5,529.3 330.0,532.0C325.5,534.7 321.5,535.2 318.0,538.0C314.5,540.8 312.0,547.2 309.0,549.0C306.0,550.8 301.2,551.8 300.0,549.0C298.8,546.2 303.3,536.8 302.0,532.0C300.7,527.2 290.7,523.8 292.0,520.0Z"/></clipPath>
<g filter="url(#rough2)"><g clip-path="url(#dclip)">
<rect x="255" y="505" width="200" height="190" fill="#5416a4"/>
<rect x="255" y="505" width="200" height="190" filter="url(#nMag)" opacity="0.85"/>
<rect x="255" y="505" width="200" height="190" filter="url(#nDark)" opacity="0.9"/>
<rect x="255" y="505" width="200" height="190" filter="url(#nViol)" opacity="0.7"/>
<path d="M292.0,520.0C293.3,516.2 301.2,511.0 310.0,509.0C318.8,507.0 339.2,505.8 345.0,508.0C350.8,510.2 347.5,518.0 345.0,522.0C342.5,526.0 334.5,529.3 330.0,532.0C325.5,534.7 321.5,535.2 318.0,538.0C314.5,540.8 312.0,547.2 309.0,549.0C306.0,550.8 301.2,551.8 300.0,549.0C298.8,546.2 303.3,536.8 302.0,532.0C300.7,527.2 290.7,523.8 292.0,520.0Z" fill="#180628" />
<g clip-path="url(#c_dkpur)"><rect x="255" y="505" width="200" height="190" filter="url(#nMag)" opacity="0.7"/><rect x="255" y="505" width="200" height="190" filter="url(#nViol)" opacity="0.6"/></g>
<rect x="255" y="505" width="200" height="190" filter="url(#nWhite)" opacity="0.45"/>
<path d="M350.0,500.0C357.0,497.0 381.7,499.2 400.0,500.0C418.3,500.8 450.0,498.3 460.0,505.0C470.0,511.7 461.7,532.8 460.0,540.0C458.3,547.2 453.7,547.0 450.0,548.0C446.3,549.0 442.2,548.0 438.0,546.0C433.8,544.0 429.0,539.2 425.0,536.0C421.0,532.8 417.5,528.0 414.0,527.0C410.5,526.0 406.3,525.3 404.0,530.0C401.7,534.7 404.0,549.7 400.0,555.0C396.0,560.3 387.8,560.8 380.0,562.0C372.2,563.2 357.0,564.8 353.0,562.0C349.0,559.2 355.2,552.3 356.0,545.0C356.8,537.7 359.0,525.5 358.0,518.0C357.0,510.5 343.0,503.0 350.0,500.0Z" fill="#000" />
<path d="M250.0,500.0C258.3,490.0 293.0,497.7 300.0,500.0C307.0,502.3 294.5,510.3 292.0,514.0C289.5,517.7 288.0,518.3 285.0,522.0C282.0,525.7 277.2,530.3 274.0,536.0C270.8,541.7 268.8,551.0 266.0,556.0C263.2,561.0 259.7,565.3 257.0,566.0C254.3,566.7 251.2,571.0 250.0,560.0C248.8,549.0 241.7,510.0 250.0,500.0Z" fill="#000" />
<path d="M263.0,563.0C266.2,556.3 278.8,560.8 285.0,560.0C291.2,559.2 295.8,558.0 300.0,558.0C304.2,558.0 308.0,557.8 310.0,560.0C312.0,562.2 313.2,567.5 312.0,571.0C310.8,574.5 306.3,577.5 303.0,581.0C299.7,584.5 294.5,588.2 292.0,592.0C289.5,595.8 290.7,601.3 288.0,604.0C285.3,606.7 279.7,608.7 276.0,608.0C272.3,607.3 268.2,607.5 266.0,600.0C263.8,592.5 259.8,569.7 263.0,563.0Z" fill="#000" />
<path d="M250.0,614.0C252.0,600.0 259.0,611.7 262.0,616.0C265.0,620.3 265.0,632.7 268.0,640.0C271.0,647.3 274.7,653.7 280.0,660.0C285.3,666.3 291.7,672.7 300.0,678.0C308.3,683.3 338.3,688.3 330.0,692.0C321.7,695.7 263.3,713.0 250.0,700.0C236.7,687.0 248.0,628.0 250.0,614.0Z" fill="#000" />
<path d="M298.0,546.0C302.3,543.0 319.3,541.3 330.0,541.0C340.7,540.7 350.7,542.7 362.0,544.0C373.3,545.3 391.0,546.5 398.0,549.0C405.0,551.5 407.0,556.5 404.0,559.0C401.0,561.5 390.7,563.3 380.0,564.0C369.3,564.7 350.3,563.2 340.0,563.0C329.7,562.8 324.0,563.7 318.0,563.0C312.0,562.3 307.3,561.8 304.0,559.0C300.7,556.2 293.7,549.0 298.0,546.0Z" fill="#000" />
<path d="M333.0,580.0C334.5,578.2 338.8,577.0 341.0,578.0C343.2,579.0 345.5,583.2 346.0,586.0C346.5,588.8 345.7,593.3 344.0,595.0C342.3,596.7 338.0,597.0 336.0,596.0C334.0,595.0 332.5,591.7 332.0,589.0C331.5,586.3 331.5,581.8 333.0,580.0Z" fill="#000" />
<path d="M268.5,557.5C268.3,554.3 269.8,545.6 273.0,540.0C276.2,534.4 283.3,527.0 287.7,523.8C292.1,520.5 296.6,519.0 299.2,520.5C301.8,522.0 303.3,528.2 303.0,532.5C302.7,536.8 298.9,541.8 297.3,546.0C295.7,550.2 295.1,555.0 293.5,557.5C291.9,560.0 290.9,561.0 287.7,561.3C284.5,561.6 277.4,560.0 274.2,559.4C271.0,558.8 268.7,560.7 268.5,557.5Z" fill="#b07888" />
<g clip-path="url(#c_po_tl)"><rect x="255" y="505" width="200" height="190" filter="url(#nOlive)"/><rect x="255" y="505" width="200" height="190" filter="url(#nPink)"/><rect x="255" y="505" width="200" height="190" filter="url(#nOrange)"/><rect x="255" y="505" width="200" height="190" filter="url(#nBlk)" opacity="0.55"/></g>
<path d="M324.0,521.0C325.2,517.0 329.2,513.5 333.0,511.0C336.8,508.5 343.0,505.7 347.0,506.0C351.0,506.3 355.3,509.2 357.0,513.0C358.7,516.8 357.8,524.3 357.0,529.0C356.2,533.7 355.5,538.7 352.0,541.0C348.5,543.3 340.3,544.0 336.0,543.0C331.7,542.0 328.0,538.7 326.0,535.0C324.0,531.3 322.8,525.0 324.0,521.0Z" fill="#a09070" />
<g clip-path="url(#c_po_tr)"><rect x="255" y="505" width="200" height="190" filter="url(#nOlive)"/><rect x="255" y="505" width="200" height="190" filter="url(#nPink)"/><rect x="255" y="505" width="200" height="190" filter="url(#nOrange)"/><rect x="255" y="505" width="200" height="190" filter="url(#nBlk)" opacity="0.55"/></g>
<path d="M272.0,606.0C275.7,603.8 286.0,605.7 290.0,603.0C294.0,600.3 293.5,593.2 296.0,590.0C298.5,586.8 301.3,584.7 305.0,584.0C308.7,583.3 314.8,583.8 318.0,586.0C321.2,588.2 322.5,592.7 324.0,597.0C325.5,601.3 326.0,606.2 327.0,612.0C328.0,617.8 327.5,626.0 330.0,632.0C332.5,638.0 337.0,643.3 342.0,648.0C347.0,652.7 353.3,655.3 360.0,660.0C366.7,664.7 380.7,671.5 382.0,676.0C383.3,680.5 374.0,684.8 368.0,687.0C362.0,689.2 354.3,689.3 346.0,689.0C337.7,688.7 326.3,687.7 318.0,685.0C309.7,682.3 302.5,678.2 296.0,673.0C289.5,667.8 283.3,660.8 279.0,654.0C274.7,647.2 271.8,638.3 270.0,632.0C268.2,625.7 267.7,620.3 268.0,616.0C268.3,611.7 268.3,608.2 272.0,606.0Z" fill="#b47888" />
<g clip-path="url(#c_po_main)"><rect x="255" y="505" width="200" height="190" filter="url(#nOlive)"/><rect x="255" y="505" width="200" height="190" filter="url(#nPink)"/><rect x="255" y="505" width="200" height="190" filter="url(#nOrange)"/><rect x="255" y="505" width="200" height="190" filter="url(#nBlk)" opacity="0.55"/></g>
<path d="M257.0,564.0C258.7,558.0 263.8,560.0 266.0,564.0C268.2,568.0 269.3,580.7 270.0,588.0C270.7,595.3 271.2,603.7 270.0,608.0C268.8,612.3 265.3,615.3 263.0,614.0C260.7,612.7 257.0,608.3 256.0,600.0C255.0,591.7 255.3,570.0 257.0,564.0Z" fill="#80a040" />
<g clip-path="url(#c_strip)"><rect x="255" y="505" width="200" height="190" filter="url(#nOlive)"/><rect x="255" y="505" width="200" height="190" filter="url(#nPink)"/><rect x="255" y="505" width="200" height="190" filter="url(#nOrange)"/><rect x="255" y="505" width="200" height="190" filter="url(#nBlk)" opacity="0.55"/></g>
<path d="M432.0,556.0C434.7,554.5 442.8,560.3 446.0,566.0C449.2,571.7 450.8,583.7 451.0,590.0C451.2,596.3 449.3,603.3 447.0,604.0C444.7,604.7 439.8,598.8 437.0,594.0C434.2,589.2 430.8,581.3 430.0,575.0C429.2,568.7 429.3,557.5 432.0,556.0Z" fill="#786a50" />
<g clip-path="url(#c_olive_r)"><rect x="255" y="505" width="200" height="190" filter="url(#nOlive)"/><rect x="255" y="505" width="200" height="190" filter="url(#nPink)"/><rect x="255" y="505" width="200" height="190" filter="url(#nOrange)"/><rect x="255" y="505" width="200" height="190" filter="url(#nBlk)" opacity="0.55"/></g>
<path d="M410.0,623.0C411.3,621.3 415.7,620.2 418.0,621.0C420.3,621.8 423.3,625.5 424.0,628.0C424.7,630.5 423.7,634.5 422.0,636.0C420.3,637.5 416.0,637.8 414.0,637.0C412.0,636.2 410.7,633.3 410.0,631.0C409.3,628.7 408.7,624.7 410.0,623.0Z" fill="#2a0a40" opacity="0.85"/>
</g></g>
<rect x="256" y="690.6" width="28.8" height="2" fill="#fff"/>
<text x="270.4" y="689" font-family="Liberation Sans, sans-serif" font-size="3.5" fill="#ddd" text-anchor="middle">100 µm</text>
<text x="256.6" y="510.7" font-family="Liberation Sans, sans-serif" font-weight="bold" font-size="19.8" fill="#fff">D</text>
<text x="448.3" y="690.3" font-family="Liberation Sans, sans-serif" font-size="6.8" fill="#d8d8d8" text-anchor="end" textLength="79.5" lengthAdjust="spacingAndGlyphs">Green: Alex555 anti-CD138</text>
<text x="448.3" y="697.8" font-family="Liberation Sans, sans-serif" font-size="6.8" fill="#d8d8d8" text-anchor="end" textLength="64.2" lengthAdjust="spacingAndGlyphs">Red: Cy-5 anti-PARP1</text>
<text x="448.3" y="705.8" font-family="Liberation Sans, sans-serif" font-size="6.8" fill="#d8d8d8" text-anchor="end" textLength="31" lengthAdjust="spacingAndGlyphs">Blue: DAPI</text>
<text x="1.3" y="733" font-family="Liberation Sans, sans-serif" font-weight="bold" font-size="16.5" fill="#111" textLength="11.6" lengthAdjust="spacingAndGlyphs">E</text>
<path d="M35,722.5V881.5H243" stroke="#a8a8a8" stroke-width="1.1" fill="none"/>
<line x1="31" y1="730.2" x2="35" y2="730.2" stroke="#999" stroke-width="1"/>
<text x="30.8" y="732.2" font-family="Liberation Sans, sans-serif" font-size="5.6" fill="#777" text-anchor="end" textLength="12" lengthAdjust="spacingAndGlyphs">1.0</text>
<line x1="31" y1="758.9000000000001" x2="35" y2="758.9000000000001" stroke="#999" stroke-width="1"/>
<text x="30.8" y="760.9000000000001" font-family="Liberation Sans, sans-serif" font-size="5.6" fill="#777" text-anchor="end" textLength="12" lengthAdjust="spacingAndGlyphs">0.8</text>
<line x1="31" y1="787.6" x2="35" y2="787.6" stroke="#999" stroke-width="1"/>
<text x="30.8" y="789.6" font-family="Liberation Sans, sans-serif" font-size="5.6" fill="#777" text-anchor="end" textLength="12" lengthAdjust="spacingAndGlyphs">0.6</text>
<line x1="31" y1="816.3000000000001" x2="35" y2="816.3000000000001" stroke="#999" stroke-width="1"/>
<text x="30.8" y="818.3000000000001" font-family="Liberation Sans, sans-serif" font-size="5.6" fill="#777" text-anchor="end" textLength="12" lengthAdjust="spacingAndGlyphs">0.4</text>
<line x1="31" y1="845.0" x2="35" y2="845.0" stroke="#999" stroke-width="1"/>
<text x="30.8" y="847.0" font-family="Liberation Sans, sans-serif" font-size="5.6" fill="#777" text-anchor="end" textLength="12" lengthAdjust="spacingAndGlyphs">0.2</text>
<line x1="31" y1="873.7" x2="35" y2="873.7" stroke="#999" stroke-width="1"/>
<text x="30.8" y="875.7" font-family="Liberation Sans, sans-serif" font-size="5.6" fill="#777" text-anchor="end" textLength="12" lengthAdjust="spacingAndGlyphs">0.0</text>
<line x1="45.6" y1="881.5" x2="45.6" y2="885" stroke="#999" stroke-width="1"/>
<text x="45.6" y="891" font-family="Liberation Sans, sans-serif" font-size="5.6" fill="#777" text-anchor="middle" textLength="3.7" lengthAdjust="spacingAndGlyphs">0</text>
<line x1="83.7" y1="881.5" x2="83.7" y2="885" stroke="#999" stroke-width="1"/>
<text x="83.7" y="891" font-family="Liberation Sans, sans-serif" font-size="5.6" fill="#777" text-anchor="middle" textLength="7.4" lengthAdjust="spacingAndGlyphs">20</text>
<line x1="121.80000000000001" y1="881.5" x2="121.80000000000001" y2="885" stroke="#999" stroke-width="1"/>
<text x="121.80000000000001" y="891" font-family="Liberation Sans, sans-serif" font-size="5.6" fill="#777" text-anchor="middle" textLength="7.4" lengthAdjust="spacingAndGlyphs">40</text>
<line x1="159.9" y1="881.5" x2="159.9" y2="885" stroke="#999" stroke-width="1"/>
<text x="159.9" y="891" font-family="Liberation Sans, sans-serif" font-size="5.6" fill="#777" text-anchor="middle" textLength="7.4" lengthAdjust="spacingAndGlyphs">60</text>
<line x1="198.0" y1="881.5" x2="198.0" y2="885" stroke="#999" stroke-width="1"/>
<text x="198.0" y="891" font-family="Liberation Sans, sans-serif" font-size="5.6" fill="#777" text-anchor="middle" textLength="7.4" lengthAdjust="spacingAndGlyphs">80</text>
<line x1="236.1" y1="881.5" x2="236.1" y2="885" stroke="#999" stroke-width="1"/>
<text x="236.1" y="891" font-family="Liberation Sans, sans-serif" font-size="5.6" fill="#777" text-anchor="middle" textLength="11.1" lengthAdjust="spacingAndGlyphs">100</text>
<text transform="translate(12.3,802) rotate(-90)" font-family="Liberation Sans, sans-serif" font-weight="bold" font-size="9.6" fill="#222" text-anchor="middle" textLength="51.4" lengthAdjust="spacingAndGlyphs">Cum Survival</text>
<text x="141.1" y="903" font-family="Liberation Sans, sans-serif" font-weight="bold" font-size="7.6" fill="#222" text-anchor="middle" textLength="66.6" lengthAdjust="spacingAndGlyphs">TTP (months)</text>
<path d="M46.5,730.0H53.0V731.0H56.3V734.4H59.2V738.3H61.2V741.2H63.0V749.8H66.0V752.0H67.9V754.6H70.8V758.5H73.0V762.7H80.4V763.3H83.3V767.1H86.2V770.4H89.6V771.5H92.0V782.5H95.8V785.4H97.0V790.0H98.7V794.0H99.4V800.4H101.9V802.7H102.9V809.0H104.6V811.5H108.0V814.2H111.5V816.0H116.7V819.4H118.5V826.3H121.9V831.5H135.8V835.7H148.9V841.2H162.8V845.4H164.2V848.2H218.1V848.2" stroke="#4058a8" stroke-width="1.5" fill="none"/><path d="M170.0,846.9V849.5M190.0,846.9V849.5M205.0,846.9V849.5M218.1,846.9V849.5" stroke="#4058a8" stroke-width="1.2" fill="none"/>
<path d="M46.5,730.0H53.0V731.0H56.0V735.0H58.3V740.2H58.8V747.9H61.2V748.8H62.0V754.6H64.0V759.4H67.0V765.2H68.5V786.3H74.4V786.3H74.6V800.8H78.5V800.8H79.4V809.4H81.3V819.4H90.1V819.4H91.5V836.7H94.2V845.4H115.0V845.4H115.7V855.1H123.7V855.1H124.3V864.4H128.8V864.4" stroke="#5cb44c" stroke-width="1.5" fill="none"/><path d="M128.8,863.1V865.7" stroke="#5cb44c" stroke-width="1.2" fill="none"/>
<text x="149" y="750.8" font-family="Liberation Sans, sans-serif" font-size="6.9" fill="#3a3a3a" textLength="87.2" lengthAdjust="spacingAndGlyphs">PARP1 nuclear AQUA</text>
<text x="160.2" y="757.3" font-family="Liberation Sans, sans-serif" font-size="6.9" fill="#3a3a3a" textLength="65.2" lengthAdjust="spacingAndGlyphs">score&#160; High 1/3</text>
<path d="M146.9,765.5H152.9V762.5H156.9V765" stroke="#4058a8" stroke-width="1.4" fill="none"/>
<text x="157.9" y="766" font-family="Liberation Sans, sans-serif" font-size="5.5" fill="#777">0</text>
<path d="M173,765.5H179V762.5H183V765" stroke="#5cb44c" stroke-width="1.4" fill="none"/>
<text x="184" y="766" font-family="Liberation Sans, sans-serif" font-size="5.5" fill="#777">1</text>
<path d="M200.8,764H210.8M205.8,762V766" stroke="#4058a8" stroke-width="0.8" fill="none"/>
<path d="M227,764H237M232,762V766" stroke="#5cb44c" stroke-width="0.8" fill="none"/>
<text x="274.8" y="735" font-family="Liberation Sans, sans-serif" font-weight="bold" font-size="17" fill="#111">F</text>
<path d="M306.2,722.5V881.5H514.2" stroke="#a8a8a8" stroke-width="1.1" fill="none"/>
<line x1="302.2" y1="730.2" x2="306.2" y2="730.2" stroke="#999" stroke-width="1"/>
<text x="301.3" y="732.2" font-family="Liberation Sans, sans-serif" font-size="5.6" fill="#777" text-anchor="end" textLength="12" lengthAdjust="spacingAndGlyphs">1.0</text>
<line x1="302.2" y1="758.9000000000001" x2="306.2" y2="758.9000000000001" stroke="#999" stroke-width="1"/>
<text x="301.3" y="760.9000000000001" font-family="Liberation Sans, sans-serif" font-size="5.6" fill="#777" text-anchor="end" textLength="12" lengthAdjust="spacingAndGlyphs">0.8</text>
<line x1="302.2" y1="787.6" x2="306.2" y2="787.6" stroke="#999" stroke-width="1"/>
<text x="301.3" y="789.6" font-family="Liberation Sans, sans-serif" font-size="5.6" fill="#777" text-anchor="end" textLength="12" lengthAdjust="spacingAndGlyphs">0.6</text>
<line x1="302.2" y1="816.3000000000001" x2="306.2" y2="816.3000000000001" stroke="#999" stroke-width="1"/>
<text x="301.3" y="818.3000000000001" font-family="Liberation Sans, sans-serif" font-size="5.6" fill="#777" text-anchor="end" textLength="12" lengthAdjust="spacingAndGlyphs">0.4</text>
<line x1="302.2" y1="845.0" x2="306.2" y2="845.0" stroke="#999" stroke-width="1"/>
<text x="301.3" y="847.0" font-family="Liberation Sans, sans-serif" font-size="5.6" fill="#777" text-anchor="end" textLength="12" lengthAdjust="spacingAndGlyphs">0.2</text>
<line x1="302.2" y1="873.7" x2="306.2" y2="873.7" stroke="#999" stroke-width="1"/>
<text x="301.3" y="875.7" font-family="Liberation Sans, sans-serif" font-size="5.6" fill="#777" text-anchor="end" textLength="12" lengthAdjust="spacingAndGlyphs">0.0</text>
<line x1="317.5" y1="881.5" x2="317.5" y2="885" stroke="#999" stroke-width="1"/>
<text x="317.5" y="891" font-family="Liberation Sans, sans-serif" font-size="5.6" fill="#777" text-anchor="middle" textLength="9.4" lengthAdjust="spacingAndGlyphs">0.0</text>
<line x1="351.0" y1="881.5" x2="351.0" y2="885" stroke="#999" stroke-width="1"/>
<text x="351.0" y="891" font-family="Liberation Sans, sans-serif" font-size="5.6" fill="#777" text-anchor="middle" textLength="13.1" lengthAdjust="spacingAndGlyphs">25.0</text>
<line x1="384.5" y1="881.5" x2="384.5" y2="885" stroke="#999" stroke-width="1"/>
<text x="384.5" y="891" font-family="Liberation Sans, sans-serif" font-size="5.6" fill="#777" text-anchor="middle" textLength="13.1" lengthAdjust="spacingAndGlyphs">50.0</text>
<line x1="418.0" y1="881.5" x2="418.0" y2="885" stroke="#999" stroke-width="1"/>
<text x="418.0" y="891" font-family="Liberation Sans, sans-serif" font-size="5.6" fill="#777" text-anchor="middle" textLength="13.1" lengthAdjust="spacingAndGlyphs">75.0</text>
<line x1="451.5" y1="881.5" x2="451.5" y2="885" stroke="#999" stroke-width="1"/>
<text x="451.5" y="891" font-family="Liberation Sans, sans-serif" font-size="5.6" fill="#777" text-anchor="middle" textLength="16.8" lengthAdjust="spacingAndGlyphs">100.0</text>
<line x1="485.0" y1="881.5" x2="485.0" y2="885" stroke="#999" stroke-width="1"/>
<text x="485.0" y="891" font-family="Liberation Sans, sans-serif" font-size="5.6" fill="#777" text-anchor="middle" textLength="16.8" lengthAdjust="spacingAndGlyphs">125.0</text>
<text transform="translate(283,803) rotate(-90)" font-family="Liberation Sans, sans-serif" font-weight="bold" font-size="9.6" fill="#222" text-anchor="middle" textLength="51.4" lengthAdjust="spacingAndGlyphs">Cum Survival</text>
<text x="412.5" y="903" font-family="Liberation Sans, sans-serif" font-weight="bold" font-size="7.6" fill="#222" text-anchor="middle" textLength="60" lengthAdjust="spacingAndGlyphs">OS (months)</text>
<path d="M317.3,730.0H322.5V730.0H323.5V735.0H326.3V737.0H329.2V737.9H335.0V738.8H336.0V740.8H338.8V742.3H345.0V743.0H350.8V744.0H361.5V749.2H370.8V752.3H384.6V758.5H398.5V766.2H400.6V773.8H404.6V784.0H412.3V795.4H414.5V807.7H416.3V817.2H493.2V817.2" stroke="#4058a8" stroke-width="1.5" fill="none"/><path d="M360.0,742.7V745.3M380.0,751.0V753.6M430.0,815.9V818.5M440.0,815.9V818.5M450.0,815.9V818.5M470.0,815.9V818.5M493.2,815.9V818.5" stroke="#4058a8" stroke-width="1.2" fill="none"/>
<path d="M317.3,730.0H323.0V730.0H324.0V734.0H328.3V736.9H329.2V742.7H331.2V749.4H336.9V749.4H337.9V756.2H342.5V757.0H343.7V769.2H344.5V781.5H370.2V781.5H370.2V790.8H371.4V800.0H386.2V800.0H386.2V836.9H432.3V836.9" stroke="#5cb44c" stroke-width="1.5" fill="none"/><path d="M385.0,798.7V801.3M432.3,835.6V838.2" stroke="#5cb44c" stroke-width="1.2" fill="none"/>
<text x="419" y="747.3" font-family="Liberation Sans, sans-serif" font-size="6.9" fill="#3a3a3a" textLength="88.5" lengthAdjust="spacingAndGlyphs">PARP1 nuclear AQUA</text>
<text x="432.5" y="755.6" font-family="Liberation Sans, sans-serif" font-size="6.9" fill="#3a3a3a" textLength="62.5" lengthAdjust="spacingAndGlyphs">score&#160; High 1/3</text>
<path d="M415,765.0H421V762.0H425V764.5" stroke="#4058a8" stroke-width="1.4" fill="none"/>
<text x="426" y="765.5" font-family="Liberation Sans, sans-serif" font-size="5.5" fill="#777">0</text>
<path d="M440,765.0H446V762.0H450V764.5" stroke="#5cb44c" stroke-width="1.4" fill="none"/>
<text x="451" y="765.5" font-family="Liberation Sans, sans-serif" font-size="5.5" fill="#777">1</text>
<path d="M470,763.5H480M475,761.5V765.5" stroke="#4058a8" stroke-width="0.8" fill="none"/>
<path d="M497,763.5H507M502,761.5V765.5" stroke="#5cb44c" stroke-width="0.8" fill="none"/>
<rect x="95.5" y="925.7" width="347.5" height="36" fill="#4b55ae"/>
<rect x="95.5" y="961.7" width="347.5" height="2.2" fill="#f4f4fa"/>
<rect x="95.5" y="963.9" width="347.5" height="17.4" fill="#9da0d6"/>
<rect x="95.5" y="981.3" width="347.5" height="18.2" fill="#c3c5ea"/>
<line x1="95.5" y1="981.3" x2="443" y2="981.3" stroke="#8588c4" stroke-width="0.8"/>
<line x1="95.5" y1="999.3" x2="443" y2="999.3" stroke="#7a7ca8" stroke-width="0.9"/>
<line x1="171.3" y1="963.9" x2="171.3" y2="999.3" stroke="#7b7fc0" stroke-width="0.9"/>
<line x1="272.7" y1="963.9" x2="272.7" y2="999.3" stroke="#7b7fc0" stroke-width="0.9"/>
<line x1="370.5" y1="963.9" x2="370.5" y2="999.3" stroke="#7b7fc0" stroke-width="0.9"/>
<text x="222.0" y="937.2" font-family="Liberation Sans, sans-serif" font-size="9" fill="#fff" text-anchor="middle" textLength="76.8" lengthAdjust="spacingAndGlyphs">PARP1 high AQUA</text>
<text x="222.0" y="948.4" font-family="Liberation Sans, sans-serif" font-size="9" fill="#fff" text-anchor="middle">score</text>
<text x="222.0" y="959.2" font-family="Liberation Sans, sans-serif" font-size="9" fill="#fff" text-anchor="middle">n=26</text>
<text x="321.6" y="937.2" font-family="Liberation Sans, sans-serif" font-size="9" fill="#fff" text-anchor="middle">PARP1 low</text>
<text x="321.6" y="948.4" font-family="Liberation Sans, sans-serif" font-size="9" fill="#fff" text-anchor="middle">AQUA score</text>
<text x="321.6" y="959.2" font-family="Liberation Sans, sans-serif" font-size="9" fill="#fff" text-anchor="middle">n=57</text>
<text x="406.75" y="937.2" font-family="Liberation Sans, sans-serif" font-size="9" fill="#fff" text-anchor="middle">P value</text>
<text x="100.5" y="976.8" font-family="Liberation Sans, sans-serif" font-size="11" fill="#1a1a2a" text-anchor="start" textLength="66.5" lengthAdjust="spacingAndGlyphs">TTP (months)</text>
<text x="100.5" y="994.4" font-family="Liberation Sans, sans-serif" font-size="11" fill="#1a1a2a" text-anchor="start" textLength="62" lengthAdjust="spacingAndGlyphs">OS (months)</text>
<text x="222.0" y="976.8" font-family="Liberation Sans, sans-serif" font-size="11" fill="#1a1a2a" text-anchor="middle">17.2</text>
<text x="222.0" y="994.4" font-family="Liberation Sans, sans-serif" font-size="11" fill="#1a1a2a" text-anchor="middle">51.0</text>
<text x="321.6" y="976.8" font-family="Liberation Sans, sans-serif" font-size="11" fill="#1a1a2a" text-anchor="middle">29.7</text>
<text x="321.6" y="994.4" font-family="Liberation Sans, sans-serif" font-size="11" fill="#1a1a2a" text-anchor="middle">72.8</text>
<text x="406.75" y="976.8" font-family="Liberation Sans, sans-serif" font-size="11" fill="#1a1a2a" text-anchor="middle">0.005</text>
<text x="406.75" y="994.4" font-family="Liberation Sans, sans-serif" font-size="11" fill="#1a1a2a" text-anchor="middle">0.011</text>
</svg>
</body></html>
